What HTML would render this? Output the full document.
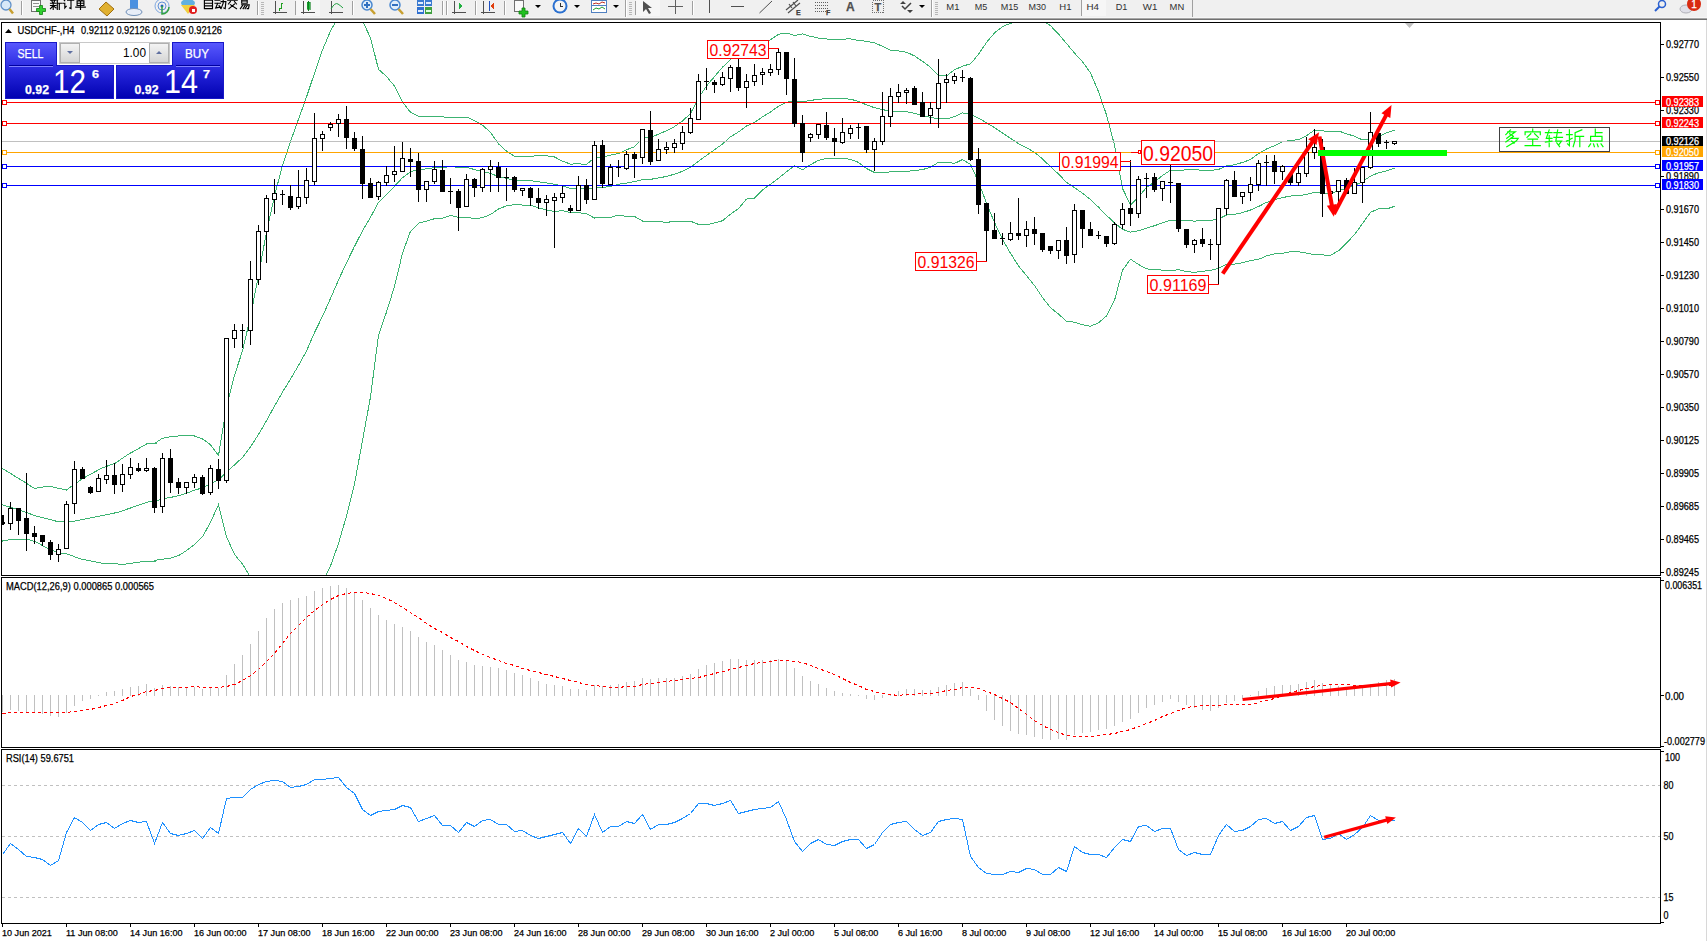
<!DOCTYPE html>
<html><head><meta charset="utf-8"><style>
html,body{margin:0;padding:0;background:#fff;overflow:hidden}
svg{display:block}
text{font-family:"Liberation Sans", sans-serif}
</style></head><body>
<svg width="1707" height="941" viewBox="0 0 1707 941" shape-rendering="crispEdges">
<rect x="0" y="0" width="1707" height="941" fill="#fff"/>
<rect x="0" y="0" width="1707" height="17" fill="#f0f0f0"/>
<rect x="0" y="17" width="1707" height="1" fill="#f6f6f6"/>
<rect x="0" y="18" width="1707" height="1" fill="#a8a8a8"/>
<rect x="0" y="19" width="1707" height="1" fill="#707070"/>
<rect x="1706" y="20" width="1" height="921" fill="#d8d8d8"/>
<defs><clipPath id="cm"><rect x="2" y="23" width="1658" height="552"/></clipPath><clipPath id="cmacd"><rect x="2" y="578" width="1658" height="169"/></clipPath><clipPath id="crsi"><rect x="2" y="750" width="1658" height="173"/></clipPath></defs>
<g clip-path="url(#cm)">
<polyline fill="none" stroke="#3cb371" stroke-width="1"  points="0,467 26,483 34.5,488.5 48,486 66.4,490 82.9,478.4 102,468 114.9,463.4 127.8,454.6 146.8,443.9 156.5,443.1 154.5,443.57 162.5,438.24 170.5,436.72 178.5,435.91 186.5,435.73 194.5,435.99 202.5,438.9 210.5,444.74 218.5,455.64 226.5,406.87 234.5,375.26 242.5,350.87 250.5,316.53 258.5,274.98 266.5,232.22 274.5,195.88 282.5,165.33 290.5,141.53 298.5,119.23 306.5,97.04 314.5,73.16 322.5,50 330.5,31 338.5,16.52 346.5,9.6 354.5,8.8 362.5,21.05 370.5,37.77 378.5,69.31 386.5,76.41 394.5,86.14 402.5,102.1 410.5,112.29 418.5,116.1 426.5,116.57 434.5,116.57 442.5,116.7 450.5,117.97 458.5,117.03 466.5,117.03 474.5,120.58 482.5,125.09 490.5,132.47 498.5,143.83 506.5,151.08 514.5,156.34 522.5,156.37 530.5,156.34 538.5,155.54 546.5,155.84 554.5,156.97 562.5,161.2 570.5,164.07 578.5,163.83 586.5,164.44 594.5,157.84 602.5,157.44 610.5,155.06 618.5,153.61 626.5,149.73 634.5,146.73 642.5,138.19 650.5,137.56 658.5,134.16 666.5,130.68 674.5,126.61 682.5,120.93 690.5,113.52 698.5,98.12 706.5,85.93 714.5,76.62 722.5,67.2 730.5,59.44 738.5,55.14 746.5,52.87 754.5,46.79 762.5,43.67 770.5,39.82 778.5,34.27 786.5,33.08 794.5,35.45 802.5,33.85 810.5,36.35 818.5,38.06 826.5,38.99 834.5,39.15 842.5,39.15 850.5,38.85 858.5,40.55 866.5,41.2 874.5,42.86 882.5,46.27 890.5,50.43 898.5,50.94 906.5,52.19 914.5,55.87 922.5,61.27 930.5,67.36 938.5,75.69 946.5,75.95 954.5,69.77 962.5,66.17 970.5,63.9 978.5,54.32 986.5,42.48 994.5,32.93 1002.5,26.59 1010.5,23.31 1018.5,21.3 1026.5,19.69 1034.5,19.01 1042.5,20.3 1050.5,25.7 1058.5,34 1066.5,43.52 1074.5,53.06 1082.5,61.75 1090.5,72.93 1098.5,91.56 1106.5,114.84 1114.5,145.18 1122.5,188.34 1130.5,204.93 1138.5,197.13 1146.5,187.37 1154.5,181.97 1162.5,175.52 1170.5,170.19 1178.5,170.18 1186.5,169.93 1194.5,169.84 1202.5,170.16 1210.5,170.5 1218.5,169.48 1226.5,166.01 1234.5,164.69 1242.5,162.43 1250.5,159.61 1258.5,153.56 1266.5,148.97 1274.5,145.73 1282.5,141.88 1290.5,140.43 1298.5,139.72 1306.5,135.74 1314.5,130.07 1322.5,130.87 1330.5,131.46 1338.5,131.01 1346.5,133.72 1354.5,136.29 1362.5,139.85 1370.5,139.74 1378.5,136.95 1386.5,132.88 1394.5,130.03"/>
<polyline fill="none" stroke="#3cb371" stroke-width="1"  points="0,504 26.3,512.3 34.3,515.5 59,521.9 70.2,521.9 82.9,519.5 118,512.3 143.5,503.5 156.5,499.5 154.5,501.99 162.5,498.7 170.5,497.42 178.5,495.77 186.5,493.19 194.5,490.21 202.5,487.82 210.5,483.51 218.5,480.09 226.5,471.81 234.5,464.85 242.5,457.49 250.5,446.84 258.5,434.5 266.5,420.65 274.5,406.07 282.5,392.08 290.5,379.08 298.5,365.42 306.5,351.02 314.5,332.55 322.5,316.35 330.5,298.44 338.5,280.01 346.5,262.78 354.5,246.37 362.5,230.85 370.5,217.3 378.5,202.38 386.5,194.23 394.5,186.29 402.5,177.67 410.5,171.76 418.5,169.68 426.5,168.83 434.5,167.63 442.5,167.5 450.5,166.7 458.5,167.2 466.5,167.16 474.5,169.62 482.5,171.38 490.5,173.5 498.5,176.44 506.5,178.42 514.5,180.46 522.5,180.71 530.5,180.72 538.5,181.74 546.5,182.93 554.5,184.22 562.5,185.95 570.5,188.41 578.5,188.19 586.5,189.11 594.5,187.93 602.5,187.53 610.5,186.32 618.5,184.31 626.5,183.06 634.5,181.62 642.5,179.62 650.5,179.36 658.5,177.95 666.5,176.45 674.5,174.13 682.5,171.31 690.5,167.35 698.5,161.28 706.5,155.41 714.5,149.77 722.5,143.97 730.5,136.79 738.5,131.91 746.5,125.96 754.5,122.47 762.5,116.89 770.5,111.98 778.5,106.22 786.5,102.42 794.5,100.69 802.5,101.84 810.5,100.48 818.5,99.23 826.5,98.74 834.5,98.65 842.5,98.65 850.5,99.13 858.5,101.46 866.5,104.85 874.5,107.69 882.5,109.64 890.5,111.09 898.5,111.31 906.5,111.76 914.5,113.22 922.5,115.42 930.5,117.38 938.5,118.94 946.5,119 954.5,116.6 962.5,112.87 970.5,114.15 978.5,118.16 986.5,122.82 994.5,127.67 1002.5,133 1010.5,138.26 1018.5,143.66 1026.5,147.65 1034.5,152.27 1042.5,158.94 1050.5,166.67 1058.5,174.06 1066.5,182.34 1074.5,187.63 1082.5,193.25 1090.5,199.58 1098.5,207.17 1106.5,215.37 1114.5,222.78 1122.5,229.36 1130.5,232.06 1138.5,230.8 1146.5,228.15 1154.5,225.71 1162.5,222.84 1170.5,220.32 1178.5,219.97 1186.5,220.73 1194.5,221.07 1202.5,220.76 1210.5,220.45 1218.5,218.86 1226.5,215.08 1234.5,214.39 1242.5,212.58 1250.5,210.06 1258.5,206.49 1266.5,202.41 1274.5,199.76 1282.5,197.61 1290.5,196.03 1298.5,195.73 1306.5,194.44 1314.5,192.31 1322.5,192.91 1330.5,193.34 1338.5,190.93 1346.5,188.37 1354.5,185.47 1362.5,181.68 1370.5,176.08 1378.5,172.83 1386.5,170.94 1394.5,168.2"/>
<polyline fill="none" stroke="#3cb371" stroke-width="1"  points="0,541.5 9.6,539.6 28.7,539.6 36.7,542.3 47.9,548.7 60.6,553.5 67,554 81.3,559.1 103.7,563.6 124.4,564.2 143.5,561.5 156.5,561 154.5,560.41 162.5,559.16 170.5,558.12 178.5,555.62 186.5,550.65 194.5,544.42 202.5,536.75 210.5,522.28 218.5,504.54 226.5,536.74 234.5,554.45 242.5,564.12 250.5,577.16 258.5,594.02 266.5,609.09 274.5,616.26 282.5,618.83 290.5,616.64 298.5,611.61 306.5,605.01 314.5,591.95 322.5,582.71 330.5,565.88 338.5,543.51 346.5,515.96 354.5,483.95 362.5,440.65 370.5,396.83 378.5,335.45 386.5,312.05 394.5,286.44 402.5,253.24 410.5,231.23 418.5,223.25 426.5,221.1 434.5,218.69 442.5,218.29 450.5,215.43 458.5,217.38 466.5,217.29 474.5,218.67 482.5,217.67 490.5,214.54 498.5,209.04 506.5,205.76 514.5,204.58 522.5,205.05 530.5,205.11 538.5,207.95 546.5,210.02 554.5,211.47 562.5,210.71 570.5,212.75 578.5,212.56 586.5,213.79 594.5,218.02 602.5,217.61 610.5,217.58 618.5,215.02 626.5,216.39 634.5,216.5 642.5,221.05 650.5,221.17 658.5,221.74 666.5,222.22 674.5,221.65 682.5,221.7 690.5,221.19 698.5,224.43 706.5,224.88 714.5,222.92 722.5,220.75 730.5,214.14 738.5,208.67 746.5,199.06 754.5,198.15 762.5,190.11 770.5,184.15 778.5,178.17 786.5,171.77 794.5,165.92 802.5,169.83 810.5,164.61 818.5,160.39 826.5,158.48 834.5,158.15 842.5,158.15 850.5,159.41 858.5,162.37 866.5,168.51 874.5,172.51 882.5,173.01 890.5,171.76 898.5,171.68 906.5,171.34 914.5,170.57 922.5,169.57 930.5,167.39 938.5,162.19 946.5,162.04 954.5,163.44 962.5,159.57 970.5,164.39 978.5,181.99 986.5,203.16 994.5,222.42 1002.5,239.42 1010.5,253.22 1018.5,266.02 1026.5,275.61 1034.5,285.53 1042.5,297.59 1050.5,307.63 1058.5,314.13 1066.5,321.16 1074.5,322.2 1082.5,324.76 1090.5,326.24 1098.5,322.77 1106.5,315.89 1114.5,300.39 1122.5,270.38 1130.5,259.19 1138.5,264.47 1146.5,268.94 1154.5,269.44 1162.5,270.16 1170.5,270.45 1178.5,269.76 1186.5,271.53 1194.5,272.3 1202.5,271.36 1210.5,270.41 1218.5,268.24 1226.5,264.16 1234.5,264.1 1242.5,262.73 1250.5,260.51 1258.5,259.42 1266.5,255.85 1274.5,253.8 1282.5,253.35 1290.5,251.63 1298.5,251.75 1306.5,253.15 1314.5,254.55 1322.5,254.95 1330.5,255.21 1338.5,250.84 1346.5,243.02 1354.5,234.66 1362.5,223.5 1370.5,212.42 1378.5,208.72 1386.5,209 1394.5,206.37"/>
<rect x="2" y="102" width="1658" height="1" fill="#ff0000"/>
<rect x="2.5" y="100.5" width="4" height="4" fill="#fff" stroke="#ff0000" stroke-width="1"/>
<rect x="1655.5" y="100.5" width="4" height="4" fill="#fff" stroke="#ff0000" stroke-width="1"/>
<rect x="2" y="123" width="1658" height="1" fill="#ff0000"/>
<rect x="2.5" y="121.5" width="4" height="4" fill="#fff" stroke="#ff0000" stroke-width="1"/>
<rect x="1655.5" y="121.5" width="4" height="4" fill="#fff" stroke="#ff0000" stroke-width="1"/>
<rect x="2" y="141" width="1658" height="1" fill="#c0c0c0"/>
<rect x="2" y="152" width="1658" height="1" fill="#ffa500"/>
<rect x="2.5" y="150.5" width="4" height="4" fill="#fff" stroke="#ffa500" stroke-width="1"/>
<rect x="1655.5" y="150.5" width="4" height="4" fill="#fff" stroke="#ffa500" stroke-width="1"/>
<rect x="2" y="166" width="1658" height="1" fill="#0000ff"/>
<rect x="2.5" y="164.5" width="4" height="4" fill="#fff" stroke="#0000ff" stroke-width="1"/>
<rect x="1655.5" y="164.5" width="4" height="4" fill="#fff" stroke="#0000ff" stroke-width="1"/>
<rect x="2" y="185" width="1658" height="1" fill="#0000ff"/>
<rect x="2.5" y="183.5" width="4" height="4" fill="#fff" stroke="#0000ff" stroke-width="1"/>
<rect x="1655.5" y="183.5" width="4" height="4" fill="#fff" stroke="#0000ff" stroke-width="1"/>
<rect x="2" y="515" width="2" height="10" fill="#000"/><rect x="2" y="522" width="3" height="2" fill="#000"/>
<rect x="10" y="502" width="1" height="28" fill="#000"/>
<rect x="8.5" y="508.5" width="4" height="15" fill="#fff" stroke="#000" stroke-width="1"/>
<rect x="18" y="508" width="1" height="27" fill="#000"/>
<rect x="16" y="508" width="5" height="13" fill="#000"/>
<rect x="26" y="473" width="1" height="78" fill="#000"/>
<rect x="24" y="518" width="5" height="16" fill="#000"/>
<rect x="34" y="526" width="1" height="18" fill="#000"/>
<rect x="32" y="533" width="5" height="4" fill="#000"/>
<rect x="42" y="535" width="1" height="11" fill="#000"/>
<rect x="40" y="535" width="5" height="7" fill="#000"/>
<rect x="50" y="540" width="1" height="20" fill="#000"/>
<rect x="48" y="542" width="5" height="13" fill="#000"/>
<rect x="58" y="544" width="1" height="18" fill="#000"/>
<rect x="56.5" y="549.5" width="4" height="5" fill="#fff" stroke="#000" stroke-width="1"/>
<rect x="66" y="501" width="1" height="48" fill="#000"/>
<rect x="64.5" y="504.5" width="4" height="44" fill="#fff" stroke="#000" stroke-width="1"/>
<rect x="74" y="461" width="1" height="53" fill="#000"/>
<rect x="72.5" y="469.5" width="4" height="34" fill="#fff" stroke="#000" stroke-width="1"/>
<rect x="82" y="467" width="1" height="12" fill="#000"/>
<rect x="80" y="469" width="5" height="10" fill="#000"/>
<rect x="90" y="486" width="1" height="8" fill="#000"/>
<rect x="88" y="487" width="5" height="6" fill="#000"/>
<rect x="98" y="474" width="1" height="18" fill="#000"/>
<rect x="96.5" y="478.5" width="4" height="13" fill="#fff" stroke="#000" stroke-width="1"/>
<rect x="106" y="460" width="1" height="24" fill="#000"/>
<rect x="104.5" y="475.5" width="4" height="4" fill="#fff" stroke="#000" stroke-width="1"/>
<rect x="114" y="463" width="1" height="31" fill="#000"/>
<rect x="112" y="475" width="5" height="10" fill="#000"/>
<rect x="122" y="464" width="1" height="28" fill="#000"/>
<rect x="120.5" y="474.5" width="4" height="10" fill="#fff" stroke="#000" stroke-width="1"/>
<rect x="130" y="458" width="1" height="21" fill="#000"/>
<rect x="128.5" y="467.5" width="4" height="7" fill="#fff" stroke="#000" stroke-width="1"/>
<rect x="138" y="463" width="1" height="9" fill="#000"/>
<rect x="136" y="468" width="5" height="3" fill="#000"/>
<rect x="146" y="458" width="1" height="14" fill="#000"/>
<rect x="144.5" y="468.5" width="4" height="2" fill="#fff" stroke="#000" stroke-width="1"/>
<rect x="154" y="467" width="1" height="46" fill="#000"/>
<rect x="152" y="468" width="5" height="40" fill="#000"/>
<rect x="162" y="453" width="1" height="60" fill="#000"/>
<rect x="160.5" y="458.5" width="4" height="48" fill="#fff" stroke="#000" stroke-width="1"/>
<rect x="170" y="449" width="1" height="44" fill="#000"/>
<rect x="168" y="458" width="5" height="25" fill="#000"/>
<rect x="178" y="478" width="1" height="16" fill="#000"/>
<rect x="176" y="482" width="5" height="6" fill="#000"/>
<rect x="186" y="482" width="1" height="12" fill="#000"/>
<rect x="184.5" y="482.5" width="4" height="5" fill="#fff" stroke="#000" stroke-width="1"/>
<rect x="194" y="474" width="1" height="14" fill="#000"/>
<rect x="192.5" y="477.5" width="4" height="5" fill="#fff" stroke="#000" stroke-width="1"/>
<rect x="202" y="475" width="1" height="20" fill="#000"/>
<rect x="200" y="477" width="5" height="17" fill="#000"/>
<rect x="210" y="465" width="1" height="30" fill="#000"/>
<rect x="208.5" y="468.5" width="4" height="24" fill="#fff" stroke="#000" stroke-width="1"/>
<rect x="218" y="459" width="1" height="30" fill="#000"/>
<rect x="216" y="469" width="5" height="12" fill="#000"/>
<rect x="226" y="338" width="1" height="145" fill="#000"/>
<rect x="224.5" y="338.5" width="4" height="142" fill="#fff" stroke="#000" stroke-width="1"/>
<rect x="234" y="324" width="1" height="24" fill="#000"/>
<rect x="232.5" y="330.5" width="4" height="8" fill="#fff" stroke="#000" stroke-width="1"/>
<rect x="242" y="324" width="1" height="24" fill="#000"/>
<rect x="240" y="330" width="5" height="1" fill="#000"/>
<rect x="250" y="261" width="1" height="84" fill="#000"/>
<rect x="248.5" y="279.5" width="4" height="51" fill="#fff" stroke="#000" stroke-width="1"/>
<rect x="258" y="225" width="1" height="60" fill="#000"/>
<rect x="256.5" y="231.5" width="4" height="48" fill="#fff" stroke="#000" stroke-width="1"/>
<rect x="266" y="195" width="1" height="68" fill="#000"/>
<rect x="264.5" y="198.5" width="4" height="33" fill="#fff" stroke="#000" stroke-width="1"/>
<rect x="274" y="179" width="1" height="35" fill="#000"/>
<rect x="272.5" y="193.5" width="4" height="6" fill="#fff" stroke="#000" stroke-width="1"/>
<rect x="282" y="190" width="1" height="15" fill="#000"/>
<rect x="280" y="194" width="5" height="1" fill="#000"/>
<rect x="290" y="185" width="1" height="25" fill="#000"/>
<rect x="288" y="196" width="5" height="12" fill="#000"/>
<rect x="298" y="170" width="1" height="39" fill="#000"/>
<rect x="296.5" y="197.5" width="4" height="9" fill="#fff" stroke="#000" stroke-width="1"/>
<rect x="306" y="168" width="1" height="36" fill="#000"/>
<rect x="304.5" y="180.5" width="4" height="17" fill="#fff" stroke="#000" stroke-width="1"/>
<rect x="314" y="113" width="1" height="72" fill="#000"/>
<rect x="312.5" y="138.5" width="4" height="43" fill="#fff" stroke="#000" stroke-width="1"/>
<rect x="322" y="131" width="1" height="20" fill="#000"/>
<rect x="320.5" y="134.5" width="4" height="4" fill="#fff" stroke="#000" stroke-width="1"/>
<rect x="330" y="122" width="1" height="9" fill="#000"/>
<rect x="328.5" y="124.5" width="4" height="3" fill="#fff" stroke="#000" stroke-width="1"/>
<rect x="338" y="114" width="1" height="23" fill="#000"/>
<rect x="336.5" y="119.5" width="4" height="4" fill="#fff" stroke="#000" stroke-width="1"/>
<rect x="346" y="106" width="1" height="43" fill="#000"/>
<rect x="344" y="119" width="5" height="19" fill="#000"/>
<rect x="354" y="132" width="1" height="19" fill="#000"/>
<rect x="352" y="138" width="5" height="11" fill="#000"/>
<rect x="362" y="136" width="1" height="63" fill="#000"/>
<rect x="360" y="149" width="5" height="35" fill="#000"/>
<rect x="370" y="178" width="1" height="20" fill="#000"/>
<rect x="368" y="183" width="5" height="15" fill="#000"/>
<rect x="378" y="181" width="1" height="19" fill="#000"/>
<rect x="376.5" y="182.5" width="4" height="14" fill="#fff" stroke="#000" stroke-width="1"/>
<rect x="386" y="166" width="1" height="20" fill="#000"/>
<rect x="384.5" y="175.5" width="4" height="7" fill="#fff" stroke="#000" stroke-width="1"/>
<rect x="394" y="146" width="1" height="36" fill="#000"/>
<rect x="392.5" y="171.5" width="4" height="3" fill="#fff" stroke="#000" stroke-width="1"/>
<rect x="402" y="142" width="1" height="30" fill="#000"/>
<rect x="400.5" y="158.5" width="4" height="13" fill="#fff" stroke="#000" stroke-width="1"/>
<rect x="410" y="148" width="1" height="29" fill="#000"/>
<rect x="408" y="159" width="5" height="3" fill="#000"/>
<rect x="418" y="153" width="1" height="49" fill="#000"/>
<rect x="416" y="161" width="5" height="29" fill="#000"/>
<rect x="426" y="181" width="1" height="21" fill="#000"/>
<rect x="424.5" y="181.5" width="4" height="8" fill="#fff" stroke="#000" stroke-width="1"/>
<rect x="434" y="161" width="1" height="23" fill="#000"/>
<rect x="432.5" y="169.5" width="4" height="12" fill="#fff" stroke="#000" stroke-width="1"/>
<rect x="442" y="160" width="1" height="32" fill="#000"/>
<rect x="440" y="170" width="5" height="22" fill="#000"/>
<rect x="450" y="178" width="1" height="26" fill="#000"/>
<rect x="448" y="191" width="5" height="1" fill="#000"/>
<rect x="458" y="189" width="1" height="42" fill="#000"/>
<rect x="456" y="191" width="5" height="17" fill="#000"/>
<rect x="466" y="174" width="1" height="33" fill="#000"/>
<rect x="464.5" y="179.5" width="4" height="27" fill="#fff" stroke="#000" stroke-width="1"/>
<rect x="474" y="178" width="1" height="19" fill="#000"/>
<rect x="472" y="179" width="5" height="9" fill="#000"/>
<rect x="482" y="168" width="1" height="24" fill="#000"/>
<rect x="480.5" y="169.5" width="4" height="18" fill="#fff" stroke="#000" stroke-width="1"/>
<rect x="490" y="160" width="1" height="32" fill="#000"/>
<rect x="488.5" y="166.5" width="4" height="3" fill="#fff" stroke="#000" stroke-width="1"/>
<rect x="498" y="162" width="1" height="30" fill="#000"/>
<rect x="496" y="167" width="5" height="11" fill="#000"/>
<rect x="506" y="168" width="1" height="33" fill="#000"/>
<rect x="504" y="177" width="5" height="1" fill="#000"/>
<rect x="514" y="176" width="1" height="16" fill="#000"/>
<rect x="512" y="177" width="5" height="13" fill="#000"/>
<rect x="522" y="188" width="1" height="8" fill="#000"/>
<rect x="520.5" y="188.5" width="4" height="2" fill="#fff" stroke="#000" stroke-width="1"/>
<rect x="530" y="187" width="1" height="19" fill="#000"/>
<rect x="528" y="188" width="5" height="10" fill="#000"/>
<rect x="538" y="188" width="1" height="21" fill="#000"/>
<rect x="536" y="198" width="5" height="5" fill="#000"/>
<rect x="546" y="195" width="1" height="21" fill="#000"/>
<rect x="544.5" y="199.5" width="4" height="3" fill="#fff" stroke="#000" stroke-width="1"/>
<rect x="554" y="193" width="1" height="55" fill="#000"/>
<rect x="552.5" y="197.5" width="4" height="3" fill="#fff" stroke="#000" stroke-width="1"/>
<rect x="562" y="186" width="1" height="17" fill="#000"/>
<rect x="560.5" y="193.5" width="4" height="4" fill="#fff" stroke="#000" stroke-width="1"/>
<rect x="570" y="205" width="1" height="8" fill="#000"/>
<rect x="568" y="208" width="5" height="3" fill="#000"/>
<rect x="578" y="176" width="1" height="35" fill="#000"/>
<rect x="576.5" y="185.5" width="4" height="25" fill="#fff" stroke="#000" stroke-width="1"/>
<rect x="586" y="179" width="1" height="25" fill="#000"/>
<rect x="584" y="185" width="5" height="15" fill="#000"/>
<rect x="594" y="141" width="1" height="59" fill="#000"/>
<rect x="592.5" y="145.5" width="4" height="54" fill="#fff" stroke="#000" stroke-width="1"/>
<rect x="602" y="140" width="1" height="48" fill="#000"/>
<rect x="600" y="145" width="5" height="39" fill="#000"/>
<rect x="610" y="164" width="1" height="21" fill="#000"/>
<rect x="608.5" y="167.5" width="4" height="17" fill="#fff" stroke="#000" stroke-width="1"/>
<rect x="618" y="160" width="1" height="17" fill="#000"/>
<rect x="616" y="167" width="5" height="1" fill="#000"/>
<rect x="626" y="151" width="1" height="19" fill="#000"/>
<rect x="624.5" y="154.5" width="4" height="14" fill="#fff" stroke="#000" stroke-width="1"/>
<rect x="634" y="152" width="1" height="26" fill="#000"/>
<rect x="632" y="154" width="5" height="5" fill="#000"/>
<rect x="642" y="129" width="1" height="35" fill="#000"/>
<rect x="640.5" y="129.5" width="4" height="28" fill="#fff" stroke="#000" stroke-width="1"/>
<rect x="650" y="111" width="1" height="54" fill="#000"/>
<rect x="648" y="130" width="5" height="32" fill="#000"/>
<rect x="658" y="139" width="1" height="22" fill="#000"/>
<rect x="656.5" y="149.5" width="4" height="11" fill="#fff" stroke="#000" stroke-width="1"/>
<rect x="666" y="142" width="1" height="12" fill="#000"/>
<rect x="664.5" y="147.5" width="4" height="2" fill="#fff" stroke="#000" stroke-width="1"/>
<rect x="674" y="139" width="1" height="14" fill="#000"/>
<rect x="672.5" y="143.5" width="4" height="4" fill="#fff" stroke="#000" stroke-width="1"/>
<rect x="682" y="126" width="1" height="24" fill="#000"/>
<rect x="680.5" y="132.5" width="4" height="11" fill="#fff" stroke="#000" stroke-width="1"/>
<rect x="690" y="108" width="1" height="26" fill="#000"/>
<rect x="688.5" y="118.5" width="4" height="14" fill="#fff" stroke="#000" stroke-width="1"/>
<rect x="698" y="74" width="1" height="46" fill="#000"/>
<rect x="696.5" y="81.5" width="4" height="38" fill="#fff" stroke="#000" stroke-width="1"/>
<rect x="706" y="68" width="1" height="22" fill="#000"/>
<rect x="704" y="81" width="5" height="1" fill="#000"/>
<rect x="714" y="80" width="1" height="13" fill="#000"/>
<rect x="712" y="82" width="5" height="3" fill="#000"/>
<rect x="722" y="72" width="1" height="14" fill="#000"/>
<rect x="720.5" y="77.5" width="4" height="7" fill="#fff" stroke="#000" stroke-width="1"/>
<rect x="730" y="65" width="1" height="27" fill="#000"/>
<rect x="728.5" y="67.5" width="4" height="11" fill="#fff" stroke="#000" stroke-width="1"/>
<rect x="738" y="54" width="1" height="37" fill="#000"/>
<rect x="736" y="67" width="5" height="21" fill="#000"/>
<rect x="746" y="74" width="1" height="34" fill="#000"/>
<rect x="744.5" y="81.5" width="4" height="6" fill="#fff" stroke="#000" stroke-width="1"/>
<rect x="754" y="64" width="1" height="22" fill="#000"/>
<rect x="752.5" y="75.5" width="4" height="6" fill="#fff" stroke="#000" stroke-width="1"/>
<rect x="762" y="68" width="1" height="17" fill="#000"/>
<rect x="760.5" y="72.5" width="4" height="2" fill="#fff" stroke="#000" stroke-width="1"/>
<rect x="770" y="64" width="1" height="12" fill="#000"/>
<rect x="768.5" y="69.5" width="4" height="3" fill="#fff" stroke="#000" stroke-width="1"/>
<rect x="778" y="49" width="1" height="26" fill="#000"/>
<rect x="776.5" y="52.5" width="4" height="17" fill="#fff" stroke="#000" stroke-width="1"/>
<rect x="786" y="52" width="1" height="43" fill="#000"/>
<rect x="784" y="52" width="5" height="27" fill="#000"/>
<rect x="794" y="58" width="1" height="69" fill="#000"/>
<rect x="792" y="79" width="5" height="45" fill="#000"/>
<rect x="802" y="115" width="1" height="47" fill="#000"/>
<rect x="800" y="123" width="5" height="30" fill="#000"/>
<rect x="810" y="133" width="1" height="9" fill="#000"/>
<rect x="808.5" y="134.5" width="4" height="3" fill="#fff" stroke="#000" stroke-width="1"/>
<rect x="818" y="124" width="1" height="15" fill="#000"/>
<rect x="816.5" y="124.5" width="4" height="10" fill="#fff" stroke="#000" stroke-width="1"/>
<rect x="826" y="112" width="1" height="28" fill="#000"/>
<rect x="824" y="125" width="5" height="13" fill="#000"/>
<rect x="834" y="128" width="1" height="28" fill="#000"/>
<rect x="832" y="138" width="5" height="4" fill="#000"/>
<rect x="842" y="118" width="1" height="26" fill="#000"/>
<rect x="840.5" y="132.5" width="4" height="10" fill="#fff" stroke="#000" stroke-width="1"/>
<rect x="850" y="125" width="1" height="14" fill="#000"/>
<rect x="848.5" y="128.5" width="4" height="5" fill="#fff" stroke="#000" stroke-width="1"/>
<rect x="858" y="123" width="1" height="16" fill="#000"/>
<rect x="856" y="127" width="5" height="1" fill="#000"/>
<rect x="866" y="126" width="1" height="27" fill="#000"/>
<rect x="864" y="126" width="5" height="24" fill="#000"/>
<rect x="874" y="138" width="1" height="33" fill="#000"/>
<rect x="872.5" y="141.5" width="4" height="8" fill="#fff" stroke="#000" stroke-width="1"/>
<rect x="882" y="92" width="1" height="53" fill="#000"/>
<rect x="880.5" y="116.5" width="4" height="25" fill="#fff" stroke="#000" stroke-width="1"/>
<rect x="890" y="88" width="1" height="39" fill="#000"/>
<rect x="888.5" y="96.5" width="4" height="20" fill="#fff" stroke="#000" stroke-width="1"/>
<rect x="898" y="84" width="1" height="19" fill="#000"/>
<rect x="896.5" y="92.5" width="4" height="4" fill="#fff" stroke="#000" stroke-width="1"/>
<rect x="906" y="88" width="1" height="16" fill="#000"/>
<rect x="904.5" y="90.5" width="4" height="2" fill="#fff" stroke="#000" stroke-width="1"/>
<rect x="914" y="86" width="1" height="19" fill="#000"/>
<rect x="912" y="88" width="5" height="17" fill="#000"/>
<rect x="922" y="92" width="1" height="25" fill="#000"/>
<rect x="920" y="102" width="5" height="15" fill="#000"/>
<rect x="930" y="102" width="1" height="22" fill="#000"/>
<rect x="928.5" y="108.5" width="4" height="7" fill="#fff" stroke="#000" stroke-width="1"/>
<rect x="938" y="59" width="1" height="69" fill="#000"/>
<rect x="936.5" y="83.5" width="4" height="25" fill="#fff" stroke="#000" stroke-width="1"/>
<rect x="946" y="74" width="1" height="29" fill="#000"/>
<rect x="944.5" y="79.5" width="4" height="3" fill="#fff" stroke="#000" stroke-width="1"/>
<rect x="954" y="73" width="1" height="11" fill="#000"/>
<rect x="952.5" y="76.5" width="4" height="4" fill="#fff" stroke="#000" stroke-width="1"/>
<rect x="962" y="70" width="1" height="12" fill="#000"/>
<rect x="960" y="77" width="5" height="1" fill="#000"/>
<rect x="970" y="77" width="1" height="84" fill="#000"/>
<rect x="968" y="78" width="5" height="82" fill="#000"/>
<rect x="978" y="148" width="1" height="66" fill="#000"/>
<rect x="976" y="159" width="5" height="46" fill="#000"/>
<rect x="986" y="203" width="1" height="59" fill="#000"/>
<rect x="984" y="203" width="5" height="28" fill="#000"/>
<rect x="994" y="213" width="1" height="26" fill="#000"/>
<rect x="992" y="230" width="5" height="9" fill="#000"/>
<rect x="1002" y="233" width="1" height="12" fill="#000"/>
<rect x="1000" y="238" width="5" height="1" fill="#000"/>
<rect x="1010" y="222" width="1" height="19" fill="#000"/>
<rect x="1008.5" y="233.5" width="4" height="6" fill="#fff" stroke="#000" stroke-width="1"/>
<rect x="1018" y="198" width="1" height="42" fill="#000"/>
<rect x="1016" y="233" width="5" height="3" fill="#000"/>
<rect x="1026" y="221" width="1" height="26" fill="#000"/>
<rect x="1024.5" y="229.5" width="4" height="6" fill="#fff" stroke="#000" stroke-width="1"/>
<rect x="1034" y="217" width="1" height="28" fill="#000"/>
<rect x="1032" y="229" width="5" height="5" fill="#000"/>
<rect x="1042" y="233" width="1" height="19" fill="#000"/>
<rect x="1040" y="233" width="5" height="17" fill="#000"/>
<rect x="1050" y="246" width="1" height="8" fill="#000"/>
<rect x="1048" y="246" width="5" height="5" fill="#000"/>
<rect x="1058" y="240" width="1" height="19" fill="#000"/>
<rect x="1056.5" y="240.5" width="4" height="10" fill="#fff" stroke="#000" stroke-width="1"/>
<rect x="1066" y="227" width="1" height="37" fill="#000"/>
<rect x="1064" y="240" width="5" height="16" fill="#000"/>
<rect x="1074" y="204" width="1" height="59" fill="#000"/>
<rect x="1072.5" y="210.5" width="4" height="44" fill="#fff" stroke="#000" stroke-width="1"/>
<rect x="1082" y="210" width="1" height="38" fill="#000"/>
<rect x="1080" y="210" width="5" height="19" fill="#000"/>
<rect x="1090" y="222" width="1" height="14" fill="#000"/>
<rect x="1088" y="229" width="5" height="7" fill="#000"/>
<rect x="1098" y="231" width="1" height="8" fill="#000"/>
<rect x="1096" y="235" width="5" height="1" fill="#000"/>
<rect x="1106" y="236" width="1" height="11" fill="#000"/>
<rect x="1104" y="236" width="5" height="8" fill="#000"/>
<rect x="1114" y="222" width="1" height="23" fill="#000"/>
<rect x="1112.5" y="224.5" width="4" height="19" fill="#fff" stroke="#000" stroke-width="1"/>
<rect x="1122" y="203" width="1" height="26" fill="#000"/>
<rect x="1120.5" y="209.5" width="4" height="15" fill="#fff" stroke="#000" stroke-width="1"/>
<rect x="1130" y="160" width="1" height="66" fill="#000"/>
<rect x="1128" y="208" width="5" height="6" fill="#000"/>
<rect x="1138" y="176" width="1" height="42" fill="#000"/>
<rect x="1136.5" y="179.5" width="4" height="34" fill="#fff" stroke="#000" stroke-width="1"/>
<rect x="1146" y="173" width="1" height="25" fill="#000"/>
<rect x="1144" y="178" width="5" height="1" fill="#000"/>
<rect x="1154" y="173" width="1" height="19" fill="#000"/>
<rect x="1152" y="177" width="5" height="13" fill="#000"/>
<rect x="1162" y="181" width="1" height="20" fill="#000"/>
<rect x="1160.5" y="181.5" width="4" height="7" fill="#fff" stroke="#000" stroke-width="1"/>
<rect x="1170" y="163" width="1" height="40" fill="#000"/>
<rect x="1168" y="182" width="5" height="1" fill="#000"/>
<rect x="1178" y="183" width="1" height="49" fill="#000"/>
<rect x="1176" y="183" width="5" height="46" fill="#000"/>
<rect x="1186" y="229" width="1" height="19" fill="#000"/>
<rect x="1184" y="229" width="5" height="16" fill="#000"/>
<rect x="1194" y="239" width="1" height="14" fill="#000"/>
<rect x="1192.5" y="240.5" width="4" height="4" fill="#fff" stroke="#000" stroke-width="1"/>
<rect x="1202" y="228" width="1" height="19" fill="#000"/>
<rect x="1200" y="239" width="5" height="5" fill="#000"/>
<rect x="1210" y="239" width="1" height="21" fill="#000"/>
<rect x="1208" y="244" width="5" height="1" fill="#000"/>
<rect x="1218" y="208" width="1" height="77" fill="#000"/>
<rect x="1216.5" y="208.5" width="4" height="36" fill="#fff" stroke="#000" stroke-width="1"/>
<rect x="1226" y="179" width="1" height="36" fill="#000"/>
<rect x="1224.5" y="180.5" width="4" height="28" fill="#fff" stroke="#000" stroke-width="1"/>
<rect x="1234" y="171" width="1" height="26" fill="#000"/>
<rect x="1232" y="180" width="5" height="17" fill="#000"/>
<rect x="1242" y="192" width="1" height="12" fill="#000"/>
<rect x="1240.5" y="192.5" width="4" height="4" fill="#fff" stroke="#000" stroke-width="1"/>
<rect x="1250" y="177" width="1" height="24" fill="#000"/>
<rect x="1248.5" y="184.5" width="4" height="8" fill="#fff" stroke="#000" stroke-width="1"/>
<rect x="1258" y="160" width="1" height="31" fill="#000"/>
<rect x="1256.5" y="163.5" width="4" height="21" fill="#fff" stroke="#000" stroke-width="1"/>
<rect x="1266" y="155" width="1" height="31" fill="#000"/>
<rect x="1264" y="162" width="5" height="1" fill="#000"/>
<rect x="1274" y="155" width="1" height="29" fill="#000"/>
<rect x="1272" y="161" width="5" height="11" fill="#000"/>
<rect x="1282" y="165" width="1" height="15" fill="#000"/>
<rect x="1280.5" y="166.5" width="4" height="5" fill="#fff" stroke="#000" stroke-width="1"/>
<rect x="1290" y="174" width="1" height="11" fill="#000"/>
<rect x="1288" y="174" width="5" height="9" fill="#000"/>
<rect x="1298" y="166" width="1" height="20" fill="#000"/>
<rect x="1296.5" y="173.5" width="4" height="9" fill="#fff" stroke="#000" stroke-width="1"/>
<rect x="1306" y="137" width="1" height="40" fill="#000"/>
<rect x="1304.5" y="152.5" width="4" height="21" fill="#fff" stroke="#000" stroke-width="1"/>
<rect x="1314" y="129" width="1" height="30" fill="#000"/>
<rect x="1312.5" y="147.5" width="4" height="5" fill="#fff" stroke="#000" stroke-width="1"/>
<rect x="1322" y="139" width="1" height="78" fill="#000"/>
<rect x="1320" y="147" width="5" height="47" fill="#000"/>
<rect x="1330" y="189" width="1" height="6" fill="#000"/>
<rect x="1328.5" y="191.5" width="4" height="2" fill="#fff" stroke="#000" stroke-width="1"/>
<rect x="1338" y="180" width="1" height="25" fill="#000"/>
<rect x="1336.5" y="180.5" width="4" height="11" fill="#fff" stroke="#000" stroke-width="1"/>
<rect x="1346" y="178" width="1" height="16" fill="#000"/>
<rect x="1344" y="180" width="5" height="14" fill="#000"/>
<rect x="1354" y="168" width="1" height="26" fill="#000"/>
<rect x="1352.5" y="182.5" width="4" height="11" fill="#fff" stroke="#000" stroke-width="1"/>
<rect x="1362" y="167" width="1" height="36" fill="#000"/>
<rect x="1360.5" y="167.5" width="4" height="15" fill="#fff" stroke="#000" stroke-width="1"/>
<rect x="1370" y="112" width="1" height="57" fill="#000"/>
<rect x="1368.5" y="132.5" width="4" height="35" fill="#fff" stroke="#000" stroke-width="1"/>
<rect x="1378" y="133" width="1" height="14" fill="#000"/>
<rect x="1376" y="133" width="5" height="11" fill="#000"/>
<rect x="1386" y="140" width="1" height="9" fill="#000"/>
<rect x="1384" y="142" width="5" height="1" fill="#000"/>
<rect x="1394" y="141" width="1" height="4" fill="#000"/>
<rect x="1392.5" y="141.5" width="4" height="2" fill="#fff" stroke="#000" stroke-width="1"/>
</g>
<g clip-path="url(#cmacd)">
<rect x="2" y="695" width="1" height="17" fill="#c0c0c0"/>
<rect x="10" y="695" width="1" height="15" fill="#c0c0c0"/>
<rect x="18" y="695" width="1" height="16" fill="#c0c0c0"/>
<rect x="26" y="695" width="1" height="17" fill="#c0c0c0"/>
<rect x="34" y="695" width="1" height="18" fill="#c0c0c0"/>
<rect x="42" y="695" width="1" height="19" fill="#c0c0c0"/>
<rect x="50" y="695" width="1" height="21" fill="#c0c0c0"/>
<rect x="58" y="695" width="1" height="22" fill="#c0c0c0"/>
<rect x="66" y="695" width="1" height="18" fill="#c0c0c0"/>
<rect x="74" y="695" width="1" height="11" fill="#c0c0c0"/>
<rect x="82" y="695" width="1" height="6" fill="#c0c0c0"/>
<rect x="90" y="695" width="1" height="4" fill="#c0c0c0"/>
<rect x="98" y="695" width="1" height="1" fill="#c0c0c0"/>
<rect x="106" y="692" width="1" height="4" fill="#c0c0c0"/>
<rect x="114" y="691" width="1" height="5" fill="#c0c0c0"/>
<rect x="122" y="689" width="1" height="7" fill="#c0c0c0"/>
<rect x="130" y="687" width="1" height="9" fill="#c0c0c0"/>
<rect x="138" y="686" width="1" height="10" fill="#c0c0c0"/>
<rect x="146" y="684" width="1" height="12" fill="#c0c0c0"/>
<rect x="154" y="688" width="1" height="8" fill="#c0c0c0"/>
<rect x="162" y="685" width="1" height="11" fill="#c0c0c0"/>
<rect x="170" y="686" width="1" height="10" fill="#c0c0c0"/>
<rect x="178" y="687" width="1" height="9" fill="#c0c0c0"/>
<rect x="186" y="688" width="1" height="8" fill="#c0c0c0"/>
<rect x="194" y="687" width="1" height="9" fill="#c0c0c0"/>
<rect x="202" y="689" width="1" height="7" fill="#c0c0c0"/>
<rect x="210" y="688" width="1" height="8" fill="#c0c0c0"/>
<rect x="218" y="688" width="1" height="8" fill="#c0c0c0"/>
<rect x="226" y="675" width="1" height="21" fill="#c0c0c0"/>
<rect x="234" y="664" width="1" height="32" fill="#c0c0c0"/>
<rect x="242" y="655" width="1" height="41" fill="#c0c0c0"/>
<rect x="250" y="644" width="1" height="52" fill="#c0c0c0"/>
<rect x="258" y="631" width="1" height="65" fill="#c0c0c0"/>
<rect x="266" y="618" width="1" height="78" fill="#c0c0c0"/>
<rect x="274" y="609" width="1" height="87" fill="#c0c0c0"/>
<rect x="282" y="603" width="1" height="93" fill="#c0c0c0"/>
<rect x="290" y="600" width="1" height="96" fill="#c0c0c0"/>
<rect x="298" y="598" width="1" height="98" fill="#c0c0c0"/>
<rect x="306" y="596" width="1" height="100" fill="#c0c0c0"/>
<rect x="314" y="591" width="1" height="105" fill="#c0c0c0"/>
<rect x="322" y="588" width="1" height="108" fill="#c0c0c0"/>
<rect x="330" y="586" width="1" height="110" fill="#c0c0c0"/>
<rect x="338" y="585" width="1" height="111" fill="#c0c0c0"/>
<rect x="346" y="588" width="1" height="108" fill="#c0c0c0"/>
<rect x="354" y="592" width="1" height="104" fill="#c0c0c0"/>
<rect x="362" y="600" width="1" height="96" fill="#c0c0c0"/>
<rect x="370" y="608" width="1" height="88" fill="#c0c0c0"/>
<rect x="378" y="615" width="1" height="81" fill="#c0c0c0"/>
<rect x="386" y="620" width="1" height="76" fill="#c0c0c0"/>
<rect x="394" y="624" width="1" height="72" fill="#c0c0c0"/>
<rect x="402" y="627" width="1" height="69" fill="#c0c0c0"/>
<rect x="410" y="631" width="1" height="65" fill="#c0c0c0"/>
<rect x="418" y="637" width="1" height="59" fill="#c0c0c0"/>
<rect x="426" y="642" width="1" height="54" fill="#c0c0c0"/>
<rect x="434" y="645" width="1" height="51" fill="#c0c0c0"/>
<rect x="442" y="650" width="1" height="46" fill="#c0c0c0"/>
<rect x="450" y="655" width="1" height="41" fill="#c0c0c0"/>
<rect x="458" y="660" width="1" height="36" fill="#c0c0c0"/>
<rect x="466" y="662" width="1" height="34" fill="#c0c0c0"/>
<rect x="474" y="665" width="1" height="31" fill="#c0c0c0"/>
<rect x="482" y="666" width="1" height="30" fill="#c0c0c0"/>
<rect x="490" y="667" width="1" height="29" fill="#c0c0c0"/>
<rect x="498" y="668" width="1" height="28" fill="#c0c0c0"/>
<rect x="506" y="670" width="1" height="26" fill="#c0c0c0"/>
<rect x="514" y="673" width="1" height="23" fill="#c0c0c0"/>
<rect x="522" y="675" width="1" height="21" fill="#c0c0c0"/>
<rect x="530" y="678" width="1" height="18" fill="#c0c0c0"/>
<rect x="538" y="681" width="1" height="15" fill="#c0c0c0"/>
<rect x="546" y="684" width="1" height="12" fill="#c0c0c0"/>
<rect x="554" y="685" width="1" height="11" fill="#c0c0c0"/>
<rect x="562" y="686" width="1" height="10" fill="#c0c0c0"/>
<rect x="570" y="689" width="1" height="7" fill="#c0c0c0"/>
<rect x="578" y="689" width="1" height="7" fill="#c0c0c0"/>
<rect x="586" y="690" width="1" height="6" fill="#c0c0c0"/>
<rect x="594" y="685" width="1" height="11" fill="#c0c0c0"/>
<rect x="602" y="686" width="1" height="10" fill="#c0c0c0"/>
<rect x="610" y="685" width="1" height="11" fill="#c0c0c0"/>
<rect x="618" y="684" width="1" height="12" fill="#c0c0c0"/>
<rect x="626" y="682" width="1" height="14" fill="#c0c0c0"/>
<rect x="634" y="681" width="1" height="15" fill="#c0c0c0"/>
<rect x="642" y="678" width="1" height="18" fill="#c0c0c0"/>
<rect x="650" y="679" width="1" height="17" fill="#c0c0c0"/>
<rect x="658" y="678" width="1" height="18" fill="#c0c0c0"/>
<rect x="666" y="678" width="1" height="18" fill="#c0c0c0"/>
<rect x="674" y="678" width="1" height="18" fill="#c0c0c0"/>
<rect x="682" y="676" width="1" height="20" fill="#c0c0c0"/>
<rect x="690" y="674" width="1" height="22" fill="#c0c0c0"/>
<rect x="698" y="669" width="1" height="27" fill="#c0c0c0"/>
<rect x="706" y="665" width="1" height="31" fill="#c0c0c0"/>
<rect x="714" y="663" width="1" height="33" fill="#c0c0c0"/>
<rect x="722" y="661" width="1" height="35" fill="#c0c0c0"/>
<rect x="730" y="659" width="1" height="37" fill="#c0c0c0"/>
<rect x="738" y="659" width="1" height="37" fill="#c0c0c0"/>
<rect x="746" y="660" width="1" height="36" fill="#c0c0c0"/>
<rect x="754" y="660" width="1" height="36" fill="#c0c0c0"/>
<rect x="762" y="660" width="1" height="36" fill="#c0c0c0"/>
<rect x="770" y="660" width="1" height="36" fill="#c0c0c0"/>
<rect x="778" y="659" width="1" height="37" fill="#c0c0c0"/>
<rect x="786" y="661" width="1" height="35" fill="#c0c0c0"/>
<rect x="794" y="668" width="1" height="28" fill="#c0c0c0"/>
<rect x="802" y="676" width="1" height="20" fill="#c0c0c0"/>
<rect x="810" y="681" width="1" height="15" fill="#c0c0c0"/>
<rect x="818" y="684" width="1" height="12" fill="#c0c0c0"/>
<rect x="826" y="688" width="1" height="8" fill="#c0c0c0"/>
<rect x="834" y="691" width="1" height="5" fill="#c0c0c0"/>
<rect x="842" y="693" width="1" height="3" fill="#c0c0c0"/>
<rect x="850" y="694" width="1" height="2" fill="#c0c0c0"/>
<rect x="858" y="695" width="1" height="1" fill="#c0c0c0"/>
<rect x="866" y="695" width="1" height="4" fill="#c0c0c0"/>
<rect x="874" y="695" width="1" height="5" fill="#c0c0c0"/>
<rect x="882" y="695" width="1" height="3" fill="#c0c0c0"/>
<rect x="890" y="694" width="1" height="2" fill="#c0c0c0"/>
<rect x="898" y="691" width="1" height="5" fill="#c0c0c0"/>
<rect x="906" y="689" width="1" height="7" fill="#c0c0c0"/>
<rect x="914" y="689" width="1" height="7" fill="#c0c0c0"/>
<rect x="922" y="690" width="1" height="6" fill="#c0c0c0"/>
<rect x="930" y="690" width="1" height="6" fill="#c0c0c0"/>
<rect x="938" y="687" width="1" height="9" fill="#c0c0c0"/>
<rect x="946" y="685" width="1" height="11" fill="#c0c0c0"/>
<rect x="954" y="683" width="1" height="13" fill="#c0c0c0"/>
<rect x="962" y="682" width="1" height="14" fill="#c0c0c0"/>
<rect x="970" y="689" width="1" height="7" fill="#c0c0c0"/>
<rect x="978" y="695" width="1" height="5" fill="#c0c0c0"/>
<rect x="986" y="695" width="1" height="16" fill="#c0c0c0"/>
<rect x="994" y="695" width="1" height="25" fill="#c0c0c0"/>
<rect x="1002" y="695" width="1" height="31" fill="#c0c0c0"/>
<rect x="1010" y="695" width="1" height="36" fill="#c0c0c0"/>
<rect x="1018" y="695" width="1" height="39" fill="#c0c0c0"/>
<rect x="1026" y="695" width="1" height="40" fill="#c0c0c0"/>
<rect x="1034" y="695" width="1" height="42" fill="#c0c0c0"/>
<rect x="1042" y="695" width="1" height="44" fill="#c0c0c0"/>
<rect x="1050" y="695" width="1" height="45" fill="#c0c0c0"/>
<rect x="1058" y="695" width="1" height="44" fill="#c0c0c0"/>
<rect x="1066" y="695" width="1" height="45" fill="#c0c0c0"/>
<rect x="1074" y="695" width="1" height="40" fill="#c0c0c0"/>
<rect x="1082" y="695" width="1" height="38" fill="#c0c0c0"/>
<rect x="1090" y="695" width="1" height="37" fill="#c0c0c0"/>
<rect x="1098" y="695" width="1" height="35" fill="#c0c0c0"/>
<rect x="1106" y="695" width="1" height="34" fill="#c0c0c0"/>
<rect x="1114" y="695" width="1" height="31" fill="#c0c0c0"/>
<rect x="1122" y="695" width="1" height="27" fill="#c0c0c0"/>
<rect x="1130" y="695" width="1" height="24" fill="#c0c0c0"/>
<rect x="1138" y="695" width="1" height="18" fill="#c0c0c0"/>
<rect x="1146" y="695" width="1" height="13" fill="#c0c0c0"/>
<rect x="1154" y="695" width="1" height="10" fill="#c0c0c0"/>
<rect x="1162" y="695" width="1" height="7" fill="#c0c0c0"/>
<rect x="1170" y="695" width="1" height="4" fill="#c0c0c0"/>
<rect x="1178" y="695" width="1" height="7" fill="#c0c0c0"/>
<rect x="1186" y="695" width="1" height="10" fill="#c0c0c0"/>
<rect x="1194" y="695" width="1" height="13" fill="#c0c0c0"/>
<rect x="1202" y="695" width="1" height="15" fill="#c0c0c0"/>
<rect x="1210" y="695" width="1" height="16" fill="#c0c0c0"/>
<rect x="1218" y="695" width="1" height="13" fill="#c0c0c0"/>
<rect x="1226" y="695" width="1" height="8" fill="#c0c0c0"/>
<rect x="1234" y="695" width="1" height="6" fill="#c0c0c0"/>
<rect x="1242" y="695" width="1" height="4" fill="#c0c0c0"/>
<rect x="1250" y="695" width="1" height="1" fill="#c0c0c0"/>
<rect x="1258" y="691" width="1" height="5" fill="#c0c0c0"/>
<rect x="1266" y="688" width="1" height="8" fill="#c0c0c0"/>
<rect x="1274" y="686" width="1" height="10" fill="#c0c0c0"/>
<rect x="1282" y="685" width="1" height="11" fill="#c0c0c0"/>
<rect x="1290" y="685" width="1" height="11" fill="#c0c0c0"/>
<rect x="1298" y="684" width="1" height="12" fill="#c0c0c0"/>
<rect x="1306" y="682" width="1" height="14" fill="#c0c0c0"/>
<rect x="1314" y="680" width="1" height="16" fill="#c0c0c0"/>
<rect x="1322" y="683" width="1" height="13" fill="#c0c0c0"/>
<rect x="1330" y="685" width="1" height="11" fill="#c0c0c0"/>
<rect x="1338" y="686" width="1" height="10" fill="#c0c0c0"/>
<rect x="1346" y="688" width="1" height="8" fill="#c0c0c0"/>
<rect x="1354" y="689" width="1" height="7" fill="#c0c0c0"/>
<rect x="1362" y="688" width="1" height="8" fill="#c0c0c0"/>
<rect x="1370" y="684" width="1" height="12" fill="#c0c0c0"/>
<rect x="1378" y="682" width="1" height="14" fill="#c0c0c0"/>
<rect x="1386" y="680" width="1" height="16" fill="#c0c0c0"/>
<rect x="1394" y="679" width="1" height="17" fill="#c0c0c0"/>
</g>
<polyline fill="none" stroke="#ff0000" stroke-width="1" stroke-dasharray="3,3" clip-path="url(#cmacd)" points="2.5,713.5 10.5,712.5 18.5,712.5 26.5,712.5 34.5,712.5 42.5,712.5 50.5,712.5 58.5,712.5 66.5,712.5 74.5,711.5 82.5,710.5 90.5,709.5 98.5,707.5 106.5,705.5 114.5,703.5 122.5,700.5 130.5,696.5 138.5,694.5 146.5,691.5 154.5,690.5 162.5,688.5 170.5,687.5 178.5,687.5 186.5,687.5 194.5,686.5 202.5,687.5 210.5,687.5 218.5,687.5 226.5,686.5 234.5,684.5 242.5,680.5 250.5,675.5 258.5,669.5 266.5,661.5 274.5,653.5 282.5,643.5 290.5,633.5 298.5,625.5 306.5,617.5 314.5,610.5 322.5,604.5 330.5,599.5 338.5,595.5 346.5,593.5 354.5,592.5 362.5,592.5 370.5,593.5 378.5,595.5 386.5,598.5 394.5,602.5 402.5,607.5 410.5,612.5 418.5,617.5 426.5,623.5 434.5,628.5 442.5,632.5 450.5,637.5 458.5,641.5 466.5,646.5 474.5,650.5 482.5,654.5 490.5,657.5 498.5,660.5 506.5,663.5 514.5,665.5 522.5,668.5 530.5,670.5 538.5,672.5 546.5,674.5 554.5,676.5 562.5,678.5 570.5,680.5 578.5,682.5 586.5,684.5 594.5,685.5 602.5,686.5 610.5,687.5 618.5,687.5 626.5,686.5 634.5,686.5 642.5,684.5 650.5,683.5 658.5,682.5 666.5,681.5 674.5,680.5 682.5,679.5 690.5,678.5 698.5,677.5 706.5,675.5 714.5,673.5 722.5,671.5 730.5,669.5 738.5,667.5 746.5,665.5 754.5,663.5 762.5,662.5 770.5,661.5 778.5,660.5 786.5,660.5 794.5,661.5 802.5,662.5 810.5,665.5 818.5,668.5 826.5,671.5 834.5,674.5 842.5,678.5 850.5,682.5 858.5,685.5 866.5,689.5 874.5,691.5 882.5,693.5 890.5,694.5 898.5,695.5 906.5,694.5 914.5,694.5 922.5,693.5 930.5,693.5 938.5,692.5 946.5,690.5 954.5,689.5 962.5,687.5 970.5,687.5 978.5,688.5 986.5,691.5 994.5,694.5 1002.5,698.5 1010.5,702.5 1018.5,708.5 1026.5,714.5 1034.5,720.5 1042.5,725.5 1050.5,729.5 1058.5,732.5 1066.5,735.5 1074.5,736.5 1082.5,736.5 1090.5,736.5 1098.5,735.5 1106.5,734.5 1114.5,733.5 1122.5,731.5 1130.5,729.5 1138.5,726.5 1146.5,723.5 1154.5,720.5 1162.5,716.5 1170.5,713.5 1178.5,710.5 1186.5,707.5 1194.5,706.5 1202.5,705.5 1210.5,705.5 1218.5,705.5 1226.5,704.5 1234.5,704.5 1242.5,704.5 1250.5,704.5 1258.5,702.5 1266.5,700.5 1274.5,698.5 1282.5,695.5 1290.5,692.5 1298.5,690.5 1306.5,688.5 1314.5,686.5 1322.5,685.5 1330.5,684.5 1338.5,684.5 1346.5,684.5 1354.5,685.5 1362.5,685.5 1370.5,685.5 1378.5,685.5 1386.5,685.5 1394.5,685.5"/>
<line x1="2" y1="785.5" x2="1660" y2="785.5" stroke="#c0c0c0" stroke-width="1" stroke-dasharray="3,3"/>
<line x1="2" y1="836.5" x2="1660" y2="836.5" stroke="#c0c0c0" stroke-width="1" stroke-dasharray="3,3"/>
<line x1="2" y1="897.5" x2="1660" y2="897.5" stroke="#c0c0c0" stroke-width="1" stroke-dasharray="3,3"/>
<polyline fill="none" stroke="#1e90ff" stroke-width="1" clip-path="url(#crsi)" points="2.5,854.5 10.5,843.5 18.5,849.5 26.5,856.5 34.5,857.5 42.5,859.5 50.5,865.5 58.5,860.5 66.5,832.5 74.5,817.5 82.5,822.5 90.5,830.5 98.5,824.5 106.5,822.5 114.5,828.5 122.5,823.5 130.5,820.5 138.5,822.5 146.5,821.5 154.5,843.5 162.5,822.5 170.5,833.5 178.5,835.5 186.5,833.5 194.5,830.5 202.5,838.5 210.5,827.5 218.5,833.5 226.5,798.5 234.5,797.5 242.5,797.5 250.5,789.5 258.5,784.5 266.5,781.5 274.5,780.5 282.5,781.5 290.5,787.5 298.5,786.5 306.5,784.5 314.5,779.5 322.5,779.5 330.5,778.5 338.5,777.5 346.5,787.5 354.5,793.5 362.5,809.5 370.5,815.5 378.5,811.5 386.5,810.5 394.5,809.5 402.5,805.5 410.5,807.5 418.5,821.5 426.5,818.5 434.5,815.5 442.5,825.5 450.5,825.5 458.5,832.5 466.5,822.5 474.5,826.5 482.5,820.5 490.5,819.5 498.5,824.5 506.5,824.5 514.5,831.5 522.5,830.5 530.5,835.5 538.5,838.5 546.5,836.5 554.5,834.5 562.5,832.5 570.5,843.5 578.5,828.5 586.5,836.5 594.5,814.5 602.5,832.5 610.5,826.5 618.5,826.5 626.5,821.5 634.5,823.5 642.5,814.5 650.5,829.5 658.5,824.5 666.5,824.5 674.5,822.5 682.5,818.5 690.5,813.5 698.5,803.5 706.5,803.5 714.5,805.5 722.5,803.5 730.5,800.5 738.5,813.5 746.5,811.5 754.5,809.5 762.5,808.5 770.5,807.5 778.5,801.5 786.5,819.5 794.5,841.5 802.5,851.5 810.5,843.5 818.5,839.5 826.5,844.5 834.5,845.5 842.5,841.5 850.5,839.5 858.5,839.5 866.5,848.5 874.5,844.5 882.5,832.5 890.5,824.5 898.5,822.5 906.5,821.5 914.5,829.5 922.5,835.5 930.5,832.5 938.5,821.5 946.5,819.5 954.5,818.5 962.5,819.5 970.5,856.5 978.5,867.5 986.5,873.5 994.5,874.5 1002.5,874.5 1010.5,871.5 1018.5,872.5 1026.5,868.5 1034.5,869.5 1042.5,874.5 1050.5,874.5 1058.5,867.5 1066.5,871.5 1074.5,846.5 1082.5,852.5 1090.5,854.5 1098.5,854.5 1106.5,857.5 1114.5,847.5 1122.5,839.5 1130.5,841.5 1138.5,826.5 1146.5,825.5 1154.5,831.5 1162.5,828.5 1170.5,828.5 1178.5,849.5 1186.5,855.5 1194.5,852.5 1202.5,854.5 1210.5,854.5 1218.5,835.5 1226.5,824.5 1234.5,831.5 1242.5,830.5 1250.5,826.5 1258.5,819.5 1266.5,818.5 1274.5,823.5 1282.5,821.5 1290.5,830.5 1298.5,826.5 1306.5,817.5 1314.5,815.5 1322.5,839.5 1330.5,838.5 1338.5,833.5 1346.5,839.5 1354.5,834.5 1362.5,827.5 1370.5,815.5 1378.5,820.5 1386.5,820.5 1394.5,820.5"/>
<rect x="1.5" y="22.5" width="1659" height="553" fill="none" stroke="#000" stroke-width="1"/>
<rect x="1.5" y="577.5" width="1659" height="170" fill="none" stroke="#000" stroke-width="1"/>
<rect x="1.5" y="749.5" width="1659" height="174" fill="none" stroke="#000" stroke-width="1"/>
<rect x="1661" y="44" width="3" height="1" fill="#000"/>
<text x="1666" y="48" fill="#000" font-size="10" text-anchor="start" font-weight="normal" textLength="33" lengthAdjust="spacingAndGlyphs" stroke="#000" stroke-width="0.25" >0.92770</text>
<rect x="1661" y="77" width="3" height="1" fill="#000"/>
<text x="1666" y="81" fill="#000" font-size="10" text-anchor="start" font-weight="normal" textLength="33" lengthAdjust="spacingAndGlyphs" stroke="#000" stroke-width="0.25" >0.92550</text>
<rect x="1661" y="110" width="3" height="1" fill="#000"/>
<text x="1666" y="114" fill="#000" font-size="10" text-anchor="start" font-weight="normal" textLength="33" lengthAdjust="spacingAndGlyphs" stroke="#000" stroke-width="0.25" >0.92330</text>
<rect x="1661" y="176" width="3" height="1" fill="#000"/>
<text x="1666" y="180" fill="#000" font-size="10" text-anchor="start" font-weight="normal" textLength="33" lengthAdjust="spacingAndGlyphs" stroke="#000" stroke-width="0.25" >0.91890</text>
<rect x="1661" y="209" width="3" height="1" fill="#000"/>
<text x="1666" y="213" fill="#000" font-size="10" text-anchor="start" font-weight="normal" textLength="33" lengthAdjust="spacingAndGlyphs" stroke="#000" stroke-width="0.25" >0.91670</text>
<rect x="1661" y="242" width="3" height="1" fill="#000"/>
<text x="1666" y="246" fill="#000" font-size="10" text-anchor="start" font-weight="normal" textLength="33" lengthAdjust="spacingAndGlyphs" stroke="#000" stroke-width="0.25" >0.91450</text>
<rect x="1661" y="275" width="3" height="1" fill="#000"/>
<text x="1666" y="279" fill="#000" font-size="10" text-anchor="start" font-weight="normal" textLength="33" lengthAdjust="spacingAndGlyphs" stroke="#000" stroke-width="0.25" >0.91230</text>
<rect x="1661" y="308" width="3" height="1" fill="#000"/>
<text x="1666" y="312" fill="#000" font-size="10" text-anchor="start" font-weight="normal" textLength="33" lengthAdjust="spacingAndGlyphs" stroke="#000" stroke-width="0.25" >0.91010</text>
<rect x="1661" y="341" width="3" height="1" fill="#000"/>
<text x="1666" y="345" fill="#000" font-size="10" text-anchor="start" font-weight="normal" textLength="33" lengthAdjust="spacingAndGlyphs" stroke="#000" stroke-width="0.25" >0.90790</text>
<rect x="1661" y="374" width="3" height="1" fill="#000"/>
<text x="1666" y="378" fill="#000" font-size="10" text-anchor="start" font-weight="normal" textLength="33" lengthAdjust="spacingAndGlyphs" stroke="#000" stroke-width="0.25" >0.90570</text>
<rect x="1661" y="407" width="3" height="1" fill="#000"/>
<text x="1666" y="411" fill="#000" font-size="10" text-anchor="start" font-weight="normal" textLength="33" lengthAdjust="spacingAndGlyphs" stroke="#000" stroke-width="0.25" >0.90350</text>
<rect x="1661" y="440" width="3" height="1" fill="#000"/>
<text x="1666" y="444" fill="#000" font-size="10" text-anchor="start" font-weight="normal" textLength="33" lengthAdjust="spacingAndGlyphs" stroke="#000" stroke-width="0.25" >0.90125</text>
<rect x="1661" y="473" width="3" height="1" fill="#000"/>
<text x="1666" y="477" fill="#000" font-size="10" text-anchor="start" font-weight="normal" textLength="33" lengthAdjust="spacingAndGlyphs" stroke="#000" stroke-width="0.25" >0.89905</text>
<rect x="1661" y="506" width="3" height="1" fill="#000"/>
<text x="1666" y="510" fill="#000" font-size="10" text-anchor="start" font-weight="normal" textLength="33" lengthAdjust="spacingAndGlyphs" stroke="#000" stroke-width="0.25" >0.89685</text>
<rect x="1661" y="539" width="3" height="1" fill="#000"/>
<text x="1666" y="543" fill="#000" font-size="10" text-anchor="start" font-weight="normal" textLength="33" lengthAdjust="spacingAndGlyphs" stroke="#000" stroke-width="0.25" >0.89465</text>
<rect x="1661" y="572" width="3" height="1" fill="#000"/>
<text x="1666" y="576" fill="#000" font-size="10" text-anchor="start" font-weight="normal" textLength="33" lengthAdjust="spacingAndGlyphs" stroke="#000" stroke-width="0.25" >0.89245</text>
<rect x="1662" y="96" width="41" height="11" fill="#ff0000"/>
<text x="1666" y="105.5" fill="#fff" font-size="10" text-anchor="start" font-weight="normal" textLength="33" lengthAdjust="spacingAndGlyphs" stroke="#fff" stroke-width="0.25" >0.92383</text>
<rect x="1662" y="117" width="41" height="11" fill="#ff0000"/>
<text x="1666" y="126.5" fill="#fff" font-size="10" text-anchor="start" font-weight="normal" textLength="33" lengthAdjust="spacingAndGlyphs" stroke="#fff" stroke-width="0.25" >0.92243</text>
<rect x="1662" y="136" width="41" height="10" fill="#000000"/>
<text x="1666" y="144.5" fill="#fff" font-size="10" text-anchor="start" font-weight="normal" textLength="33" lengthAdjust="spacingAndGlyphs" stroke="#fff" stroke-width="0.25" >0.92126</text>
<rect x="1662" y="146" width="41" height="11" fill="#ffa500"/>
<text x="1666" y="155.5" fill="#fff" font-size="10" text-anchor="start" font-weight="normal" textLength="33" lengthAdjust="spacingAndGlyphs" stroke="#fff" stroke-width="0.25" >0.92050</text>
<rect x="1662" y="160" width="41" height="11" fill="#0000ff"/>
<text x="1666" y="169.5" fill="#fff" font-size="10" text-anchor="start" font-weight="normal" textLength="33" lengthAdjust="spacingAndGlyphs" stroke="#fff" stroke-width="0.25" >0.91957</text>
<rect x="1662" y="179" width="41" height="11" fill="#0000ff"/>
<text x="1666" y="188.5" fill="#fff" font-size="10" text-anchor="start" font-weight="normal" textLength="33" lengthAdjust="spacingAndGlyphs" stroke="#fff" stroke-width="0.25" >0.91830</text>
<text x="1665" y="589" fill="#000" font-size="10" text-anchor="start" font-weight="normal" textLength="37" lengthAdjust="spacingAndGlyphs" stroke="#000" stroke-width="0.25" >0.006351</text>
<rect x="1661" y="580" width="3" height="1" fill="#000"/>
<rect x="1661" y="695" width="3" height="1" fill="#000"/>
<text x="1665" y="699.5" fill="#000" font-size="10" text-anchor="start" font-weight="normal" textLength="19" lengthAdjust="spacingAndGlyphs" stroke="#000" stroke-width="0.25" >0.00</text>
<rect x="1661" y="746" width="3" height="1" fill="#000"/>
<text x="1664" y="745" fill="#000" font-size="10" text-anchor="start" font-weight="normal" textLength="41" lengthAdjust="spacingAndGlyphs" stroke="#000" stroke-width="0.25" >-0.002779</text>
<rect x="1661" y="751" width="3" height="1" fill="#000"/>
<text x="1665" y="760.5" fill="#000" font-size="10" text-anchor="start" font-weight="normal" textLength="15" lengthAdjust="spacingAndGlyphs" stroke="#000" stroke-width="0.25" >100</text>
<rect x="1661" y="922" width="3" height="1" fill="#000"/>
<text x="1663.5" y="789" fill="#000" font-size="10" text-anchor="start" font-weight="normal" textLength="10" lengthAdjust="spacingAndGlyphs" stroke="#000" stroke-width="0.25" >80</text>
<text x="1663.5" y="840" fill="#000" font-size="10" text-anchor="start" font-weight="normal" textLength="10" lengthAdjust="spacingAndGlyphs" stroke="#000" stroke-width="0.25" >50</text>
<text x="1663.5" y="901" fill="#000" font-size="10" text-anchor="start" font-weight="normal" textLength="10" lengthAdjust="spacingAndGlyphs" stroke="#000" stroke-width="0.25" >15</text>
<text x="1663.5" y="919" fill="#000" font-size="10" text-anchor="start" font-weight="normal" textLength="5" lengthAdjust="spacingAndGlyphs" stroke="#000" stroke-width="0.25" >0</text>
<rect x="2" y="923" width="1" height="4" fill="#000"/>
<text x="2" y="936" fill="#000" font-size="9.5" text-anchor="start" font-weight="normal" textLength="49.9" lengthAdjust="spacingAndGlyphs" stroke="#000" stroke-width="0.25" >10 Jun 2021</text>
<rect x="66" y="923" width="1" height="4" fill="#000"/>
<text x="66" y="936" fill="#000" font-size="9.5" text-anchor="start" font-weight="normal" textLength="51.8" lengthAdjust="spacingAndGlyphs" stroke="#000" stroke-width="0.25" >11 Jun 08:00</text>
<rect x="130" y="923" width="1" height="4" fill="#000"/>
<text x="130" y="936" fill="#000" font-size="9.5" text-anchor="start" font-weight="normal" textLength="52.5" lengthAdjust="spacingAndGlyphs" stroke="#000" stroke-width="0.25" >14 Jun 16:00</text>
<rect x="194" y="923" width="1" height="4" fill="#000"/>
<text x="194" y="936" fill="#000" font-size="9.5" text-anchor="start" font-weight="normal" textLength="52.5" lengthAdjust="spacingAndGlyphs" stroke="#000" stroke-width="0.25" >16 Jun 00:00</text>
<rect x="258" y="923" width="1" height="4" fill="#000"/>
<text x="258" y="936" fill="#000" font-size="9.5" text-anchor="start" font-weight="normal" textLength="52.5" lengthAdjust="spacingAndGlyphs" stroke="#000" stroke-width="0.25" >17 Jun 08:00</text>
<rect x="322" y="923" width="1" height="4" fill="#000"/>
<text x="322" y="936" fill="#000" font-size="9.5" text-anchor="start" font-weight="normal" textLength="52.5" lengthAdjust="spacingAndGlyphs" stroke="#000" stroke-width="0.25" >18 Jun 16:00</text>
<rect x="386" y="923" width="1" height="4" fill="#000"/>
<text x="386" y="936" fill="#000" font-size="9.5" text-anchor="start" font-weight="normal" textLength="52.5" lengthAdjust="spacingAndGlyphs" stroke="#000" stroke-width="0.25" >22 Jun 00:00</text>
<rect x="450" y="923" width="1" height="4" fill="#000"/>
<text x="450" y="936" fill="#000" font-size="9.5" text-anchor="start" font-weight="normal" textLength="52.5" lengthAdjust="spacingAndGlyphs" stroke="#000" stroke-width="0.25" >23 Jun 08:00</text>
<rect x="514" y="923" width="1" height="4" fill="#000"/>
<text x="514" y="936" fill="#000" font-size="9.5" text-anchor="start" font-weight="normal" textLength="52.5" lengthAdjust="spacingAndGlyphs" stroke="#000" stroke-width="0.25" >24 Jun 16:00</text>
<rect x="578" y="923" width="1" height="4" fill="#000"/>
<text x="578" y="936" fill="#000" font-size="9.5" text-anchor="start" font-weight="normal" textLength="52.5" lengthAdjust="spacingAndGlyphs" stroke="#000" stroke-width="0.25" >28 Jun 00:00</text>
<rect x="642" y="923" width="1" height="4" fill="#000"/>
<text x="642" y="936" fill="#000" font-size="9.5" text-anchor="start" font-weight="normal" textLength="52.5" lengthAdjust="spacingAndGlyphs" stroke="#000" stroke-width="0.25" >29 Jun 08:00</text>
<rect x="706" y="923" width="1" height="4" fill="#000"/>
<text x="706" y="936" fill="#000" font-size="9.5" text-anchor="start" font-weight="normal" textLength="52.5" lengthAdjust="spacingAndGlyphs" stroke="#000" stroke-width="0.25" >30 Jun 16:00</text>
<rect x="770" y="923" width="1" height="4" fill="#000"/>
<text x="770" y="936" fill="#000" font-size="9.5" text-anchor="start" font-weight="normal" textLength="44.4" lengthAdjust="spacingAndGlyphs" stroke="#000" stroke-width="0.25" >2 Jul 00:00</text>
<rect x="834" y="923" width="1" height="4" fill="#000"/>
<text x="834" y="936" fill="#000" font-size="9.5" text-anchor="start" font-weight="normal" textLength="44.4" lengthAdjust="spacingAndGlyphs" stroke="#000" stroke-width="0.25" >5 Jul 08:00</text>
<rect x="898" y="923" width="1" height="4" fill="#000"/>
<text x="898" y="936" fill="#000" font-size="9.5" text-anchor="start" font-weight="normal" textLength="44.4" lengthAdjust="spacingAndGlyphs" stroke="#000" stroke-width="0.25" >6 Jul 16:00</text>
<rect x="962" y="923" width="1" height="4" fill="#000"/>
<text x="962" y="936" fill="#000" font-size="9.5" text-anchor="start" font-weight="normal" textLength="44.4" lengthAdjust="spacingAndGlyphs" stroke="#000" stroke-width="0.25" >8 Jul 00:00</text>
<rect x="1026" y="923" width="1" height="4" fill="#000"/>
<text x="1026" y="936" fill="#000" font-size="9.5" text-anchor="start" font-weight="normal" textLength="44.4" lengthAdjust="spacingAndGlyphs" stroke="#000" stroke-width="0.25" >9 Jul 08:00</text>
<rect x="1090" y="923" width="1" height="4" fill="#000"/>
<text x="1090" y="936" fill="#000" font-size="9.5" text-anchor="start" font-weight="normal" textLength="49.4" lengthAdjust="spacingAndGlyphs" stroke="#000" stroke-width="0.25" >12 Jul 16:00</text>
<rect x="1154" y="923" width="1" height="4" fill="#000"/>
<text x="1154" y="936" fill="#000" font-size="9.5" text-anchor="start" font-weight="normal" textLength="49.4" lengthAdjust="spacingAndGlyphs" stroke="#000" stroke-width="0.25" >14 Jul 00:00</text>
<rect x="1218" y="923" width="1" height="4" fill="#000"/>
<text x="1218" y="936" fill="#000" font-size="9.5" text-anchor="start" font-weight="normal" textLength="49.4" lengthAdjust="spacingAndGlyphs" stroke="#000" stroke-width="0.25" >15 Jul 08:00</text>
<rect x="1282" y="923" width="1" height="4" fill="#000"/>
<text x="1282" y="936" fill="#000" font-size="9.5" text-anchor="start" font-weight="normal" textLength="49.4" lengthAdjust="spacingAndGlyphs" stroke="#000" stroke-width="0.25" >16 Jul 16:00</text>
<rect x="1346" y="923" width="1" height="4" fill="#000"/>
<text x="1346" y="936" fill="#000" font-size="9.5" text-anchor="start" font-weight="normal" textLength="49.4" lengthAdjust="spacingAndGlyphs" stroke="#000" stroke-width="0.25" >20 Jul 00:00</text>
<text x="6" y="590" fill="#000" font-size="10" text-anchor="start" font-weight="normal" textLength="148" lengthAdjust="spacingAndGlyphs" stroke="#000" stroke-width="0.25" >MACD(12,26,9) 0.000865 0.000565</text>
<text x="6" y="762" fill="#000" font-size="10" text-anchor="start" font-weight="normal" textLength="68" lengthAdjust="spacingAndGlyphs" stroke="#000" stroke-width="0.25" >RSI(14) 59.6751</text>
<line x1="1222.7" y1="273.7" x2="1313.47" y2="140.46" stroke="#ff0000" stroke-width="4" shape-rendering="auto"/>
<polygon fill="#ff0000" shape-rendering="auto" points="1319.1,132.2 1316.48,144.93 1308.21,139.3"/>
<line x1="1319.5" y1="136.5" x2="1332.13" y2="206.96" stroke="#ff0000" stroke-width="4" shape-rendering="auto"/>
<polygon fill="#ff0000" shape-rendering="auto" points="1333.9,216.8 1326.86,205.87 1336.7,204.11"/>
<line x1="1333.9" y1="214" x2="1386.83" y2="113.84" stroke="#ff0000" stroke-width="4" shape-rendering="auto"/>
<polygon fill="#ff0000" shape-rendering="auto" points="1391.5,105 1390.31,117.95 1381.47,113.27"/>
<rect x="1318" y="150" width="129" height="6" fill="#00ff00"/>
<line x1="1242.6" y1="699.5" x2="1392.65" y2="683.36" stroke="#ff0000" stroke-width="3.2" shape-rendering="auto"/>
<polygon fill="#ff0000" shape-rendering="auto" points="1400.6,682.5 1391.09,687.55 1390.23,679.59"/>
<line x1="1324.2" y1="837.3" x2="1388.19" y2="819.63" stroke="#ff0000" stroke-width="3.2" shape-rendering="auto"/>
<polygon fill="#ff0000" shape-rendering="auto" points="1395.9,817.5 1387.33,824.02 1385.2,816.31"/>
<rect x="768" y="48" width="11" height="1" fill="#ff0000"/>
<rect x="707.5" y="40.5" width="61" height="18" fill="#fff" stroke="#ff0000" stroke-width="1"/>
<text x="738" y="56" fill="#ff0000" font-size="16.5" text-anchor="middle" font-weight="normal" textLength="57" lengthAdjust="spacingAndGlyphs" >0.92743</text>
<rect x="1120" y="161" width="11" height="1" fill="#ff0000"/>
<rect x="1059.5" y="152.5" width="61" height="18" fill="#fff" stroke="#ff0000" stroke-width="1"/>
<text x="1090" y="168" fill="#ff0000" font-size="16.5" text-anchor="middle" font-weight="normal" textLength="57" lengthAdjust="spacingAndGlyphs" >0.91994</text>
<rect x="1131" y="152" width="7" height="1" fill="#ff0000"/>
<rect x="1138.5" y="150.5" width="2" height="3" fill="#fff" stroke="#ff0000" stroke-width="1"/>
<rect x="1141.5" y="140.5" width="73" height="24" fill="#fff" stroke="#ff0000" stroke-width="1"/>
<text x="1178" y="161" fill="#ff0000" font-size="22" text-anchor="middle" font-weight="normal" textLength="70" lengthAdjust="spacingAndGlyphs" >0.92050</text>
<rect x="976" y="261" width="11" height="1" fill="#ff0000"/>
<rect x="915.5" y="252.5" width="61" height="18" fill="#fff" stroke="#ff0000" stroke-width="1"/>
<text x="946" y="268" fill="#ff0000" font-size="16.5" text-anchor="middle" font-weight="normal" textLength="57" lengthAdjust="spacingAndGlyphs" >0.91326</text>
<rect x="1208" y="284" width="11" height="1" fill="#ff0000"/>
<rect x="1147.5" y="275.5" width="61" height="18" fill="#fff" stroke="#ff0000" stroke-width="1"/>
<text x="1178" y="291" fill="#ff0000" font-size="16.5" text-anchor="middle" font-weight="normal" textLength="57" lengthAdjust="spacingAndGlyphs" >0.91169</text>
<rect x="1499.5" y="127.5" width="110" height="24" fill="none" stroke="#404040" stroke-width="1"/>
<path d="M1510.5,129.9 L1505.8,134.6 M1507.7,131.8 L1515.3,131.8 L1506.8,138.3 M1509.6,133.7 L1512.5,135.5 M1513.4,136.4 L1505.8,142.0 M1510.5,138.3 L1518.2,138.3 L1516.2,141.1 L1506.8,146.7 M1511.5,141.1 L1514.3,142.9" fill="none" stroke="#00ff00" stroke-width="1.2" stroke-linecap="square" stroke-linejoin="miter" shape-rendering="auto"/>
<path d="M1532.7,129.0 L1532.7,130.9 M1525.1,134.6 L1525.1,131.8 L1540.3,131.8 L1540.3,134.6 M1530.8,133.7 L1527.0,137.4 M1534.6,133.7 L1538.4,137.4 M1528.0,139.2 L1537.5,139.2 M1532.7,139.2 L1532.7,145.7 M1525.1,145.7 L1540.3,145.7" fill="none" stroke="#00ff00" stroke-width="1.2" stroke-linecap="square" stroke-linejoin="miter" shape-rendering="auto"/>
<path d="M1545.4,132.7 L1552.0,132.7 M1549.2,129.9 L1546.3,138.3 L1552.0,138.3 M1549.2,135.5 L1549.2,146.7 M1545.4,142.0 L1552.0,141.1 M1553.9,132.7 L1561.5,132.7 M1553.9,137.4 L1562.5,137.4 M1557.7,129.9 L1555.8,141.1 L1561.5,141.1 L1558.7,144.8 M1556.8,142.9 L1559.6,146.7" fill="none" stroke="#00ff00" stroke-width="1.2" stroke-linecap="square" stroke-linejoin="miter" shape-rendering="auto"/>
<path d="M1566.5,134.6 L1572.2,134.6 M1569.4,129.9 L1569.4,145.7 L1567.5,143.9 M1566.5,141.1 L1572.2,138.3 M1581.8,129.9 L1575.1,132.7 L1575.1,140.2 L1573.2,146.7 M1575.1,136.4 L1583.6,136.4 M1579.8,136.4 L1579.8,146.7" fill="none" stroke="#00ff00" stroke-width="1.2" stroke-linecap="square" stroke-linejoin="miter" shape-rendering="auto"/>
<path d="M1595.3,129.0 L1595.3,136.4 M1595.3,132.7 L1602.0,132.7 M1590.6,136.4 L1602.0,136.4 L1602.0,141.1 L1590.6,141.1 L1590.6,136.4 M1590.6,143.9 L1588.7,146.7 M1593.5,143.9 L1594.4,146.7 M1597.2,143.9 L1598.2,146.7 M1601.0,143.9 L1603.0,146.7" fill="none" stroke="#00ff00" stroke-width="1.2" stroke-linecap="square" stroke-linejoin="miter" shape-rendering="auto"/>
<polygon points="1405,23 1414,23 1409.5,28" fill="#c0c0c0" shape-rendering="auto"/>
<polygon points="5,33 12,33 8.5,29" fill="#000" shape-rendering="auto"/>
<text x="17.5" y="34" fill="#000" font-size="10" text-anchor="start" font-weight="normal" textLength="57" lengthAdjust="spacingAndGlyphs" stroke="#000" stroke-width="0.25" >USDCHF-,H4</text>
<text x="81" y="34" fill="#000" font-size="10" text-anchor="start" font-weight="normal" textLength="141" lengthAdjust="spacingAndGlyphs" stroke="#000" stroke-width="0.25" >0.92112 0.92126 0.92105 0.92126</text>
<defs><linearGradient id="gb" gradientUnits="userSpaceOnUse" x1="0" y1="42" x2="0" y2="99"><stop offset="0" stop-color="#5a5aff"/><stop offset="0.45" stop-color="#2a2ae0"/><stop offset="1" stop-color="#0000b0"/></linearGradient><linearGradient id="gbtn" x1="0" y1="0" x2="0" y2="1"><stop offset="0" stop-color="#f4f4f4"/><stop offset="1" stop-color="#d4d4d4"/></linearGradient></defs>
<rect x="5" y="42" width="52" height="57" fill="url(#gb)"/>
<rect x="5" y="66" width="109" height="33" fill="url(#gb)"/>
<rect x="172" y="42" width="52" height="57" fill="url(#gb)"/>
<rect x="116" y="66" width="108" height="33" fill="url(#gb)"/>
<rect x="9" y="65" width="44" height="1" fill="#0000a0"/><rect x="9" y="66" width="44" height="1" fill="#8080ff"/>
<rect x="176" y="65" width="44" height="1" fill="#0000a0"/><rect x="176" y="66" width="44" height="1" fill="#8080ff"/>
<path d="M5.5,42.5 H56.5 V65.5 H113.5 V98.5 H5.5 Z" fill="none" stroke="#1818c8" stroke-width="1"/>
<path d="M172.5,42.5 H223.5 V98.5 H116.5 V65.5 H172.5 Z" fill="none" stroke="#1818c8" stroke-width="1"/>
<rect x="59.5" y="42.5" width="110" height="21" fill="#fff" stroke="#c8c8c8" stroke-width="1"/>
<rect x="60.5" y="43.5" width="19" height="19" fill="url(#gbtn)" stroke="#b0b0b0" stroke-width="1"/>
<rect x="149.5" y="43.5" width="19" height="19" fill="url(#gbtn)" stroke="#b0b0b0" stroke-width="1"/>
<polygon points="67,51 73,51 70,54" fill="#6070a0" shape-rendering="auto"/>
<polygon points="156,54 162,54 159,51" fill="#6070a0" shape-rendering="auto"/>
<text x="146" y="57" fill="#000" font-size="12.5" text-anchor="end" font-weight="normal" textLength="23" lengthAdjust="spacingAndGlyphs" >1.00</text>
<text x="30.5" y="58" fill="#fff" font-size="12" text-anchor="middle" font-weight="normal" textLength="26" lengthAdjust="spacingAndGlyphs" stroke="#fff" stroke-width="0.25" >SELL</text>
<text x="197" y="58" fill="#fff" font-size="12" text-anchor="middle" font-weight="normal" textLength="24" lengthAdjust="spacingAndGlyphs" stroke="#fff" stroke-width="0.25" >BUY</text>
<text x="25" y="94" fill="#fff" font-size="12" text-anchor="start" font-weight="bold" textLength="24" lengthAdjust="spacingAndGlyphs" stroke="#fff" stroke-width="0.25" >0.92</text>
<text x="53" y="93" fill="#fff" font-size="33" text-anchor="start" font-weight="normal" textLength="33" lengthAdjust="spacingAndGlyphs" >12</text>
<text x="92" y="77.5" fill="#fff" font-size="11" text-anchor="start" font-weight="bold" textLength="7" lengthAdjust="spacingAndGlyphs" stroke="#fff" stroke-width="0.25" >6</text>
<text x="134.5" y="94" fill="#fff" font-size="12" text-anchor="start" font-weight="bold" textLength="24" lengthAdjust="spacingAndGlyphs" stroke="#fff" stroke-width="0.25" >0.92</text>
<text x="164" y="93" fill="#fff" font-size="33" text-anchor="start" font-weight="normal" textLength="34" lengthAdjust="spacingAndGlyphs" >14</text>
<text x="203" y="77.5" fill="#fff" font-size="11" text-anchor="start" font-weight="bold" textLength="7" lengthAdjust="spacingAndGlyphs" stroke="#fff" stroke-width="0.25" >7</text>
<circle cx="6" cy="5" r="5" fill="#d8e8f8" stroke="#6090c8" stroke-width="1.3" shape-rendering="auto"/>
<line x1="9.5" y1="9" x2="13" y2="13.5" stroke="#c8a030" stroke-width="2.5" shape-rendering="auto"/>
<rect x="21" y="1" width="1" height="14" fill="#a0a0a0"/><rect x="22" y="1" width="1" height="14" fill="#ffffff"/>
<rect x="31.5" y="0" width="9" height="11" fill="#fafafa" stroke="#707070" stroke-width="1"/>
<rect x="33" y="3" width="6" height="1" fill="#909090"/><rect x="33" y="6" width="6" height="1" fill="#909090"/>
<path transform="translate(-0.5,-2.5)" d="M40,8 H43 V11 H46 V14 H43 V17 H40 V14 H37 V11 H40 Z" fill="#30d030" stroke="#108010" stroke-width="0.8" shape-rendering="auto"/>
<path d="M52.5,-1.5 L53.2,-0.7 M50.5,0.1 L55.9,0.1 M51.9,0.8 L52.5,2.4 M54.6,0.8 L53.9,2.4 M50.5,3.2 L55.9,3.2 M53.2,3.2 L53.2,9.4 M50.5,5.5 L55.9,5.5 M52.5,6.3 L50.5,8.6 M53.9,6.3 L55.9,7.9 M60.7,-1.5 L57.3,0.1 L57.3,9.4 M57.3,3.2 L61.4,3.2 M59.3,3.2 L59.3,9.4" fill="none" stroke="#000" stroke-width="1.15" stroke-linecap="square" stroke-linejoin="miter" shape-rendering="auto"/>
<path d="M63.5,-0.7 L64.8,0.8 M62.8,3.2 L64.8,3.2 L64.8,7.9 L66.2,6.3 M67.6,0.1 L73.7,0.1 M71.0,0.1 L71.0,8.6 L69.6,7.9" fill="none" stroke="#000" stroke-width="1.15" stroke-linecap="square" stroke-linejoin="miter" shape-rendering="auto"/>
<path d="M77.8,-1.5 L79.2,0.1 M83.3,-1.5 L81.9,0.1 M77.1,0.8 L83.9,0.8 L83.9,5.5 L77.1,5.5 L77.1,0.8 M77.1,3.2 L83.9,3.2 M80.5,0.8 L80.5,9.4 M75.8,7.1 L85.3,7.1" fill="none" stroke="#000" stroke-width="1.15" stroke-linecap="square" stroke-linejoin="miter" shape-rendering="auto"/>
<path d="M99,9 L106,2 L114,9 L107,16 Z" fill="#e0b030" stroke="#a07010" stroke-width="1" shape-rendering="auto"/>
<rect x="130" y="0" width="8" height="9" fill="#4a90e0"/>
<ellipse cx="134" cy="12" rx="8" ry="3.5" fill="#e8eef8" stroke="#7090b8" stroke-width="1" shape-rendering="auto"/>
<circle cx="162" cy="6" r="7" fill="none" stroke="#80a8e0" stroke-width="1" shape-rendering="auto"/>
<circle cx="162" cy="6" r="4" fill="none" stroke="#6090d8" stroke-width="1" shape-rendering="auto"/>
<circle cx="162" cy="6" r="1.5" fill="#2060c0" shape-rendering="auto"/>
<path d="M162,6 V14 A7,7 0 0 0 169,7" fill="none" stroke="#30a040" stroke-width="1.5" shape-rendering="auto"/>
<ellipse cx="188" cy="3" rx="7" ry="4" fill="#60b0e0" shape-rendering="auto"/>
<path d="M181,5 L195,5 L188,14 Z" fill="#f0d040" shape-rendering="auto"/>
<circle cx="193" cy="10" r="4" fill="#e02020" shape-rendering="auto"/><rect x="191.5" y="8.5" width="3" height="3" fill="#fff"/>
<path d="M207.8,-1.5 L207.1,0.1 M204.4,0.1 L212.5,0.1 L212.5,8.6 L204.4,8.6 L204.4,0.1 M204.4,3.2 L212.5,3.2 M204.4,5.9 L212.5,5.9" fill="none" stroke="#000" stroke-width="1.15" stroke-linecap="square" stroke-linejoin="miter" shape-rendering="auto"/>
<path d="M215.0,0.1 L219.8,0.1 M215.0,3.2 L220.4,3.2 M217.7,3.2 L215.7,7.9 L220.4,7.1 M219.1,5.5 L220.4,7.9 M221.1,1.6 L225.9,1.6 L225.2,8.6 L223.8,7.9 M223.2,-1.5 L223.2,3.2 L221.1,8.6" fill="none" stroke="#000" stroke-width="1.15" stroke-linecap="square" stroke-linejoin="miter" shape-rendering="auto"/>
<path d="M232.4,-1.5 L232.4,-0.7 M227.7,0.1 L237.2,0.1 M230.4,1.6 L228.4,4.0 M234.5,1.6 L236.5,4.0 M234.5,4.0 L229.0,8.6 M230.4,4.7 L236.5,8.6" fill="none" stroke="#000" stroke-width="1.15" stroke-linecap="square" stroke-linejoin="miter" shape-rendering="auto"/>
<path d="M241.7,-1.5 L247.2,-1.5 L247.2,3.2 L241.7,3.2 L241.7,-1.5 M241.7,0.8 L247.2,0.8 M241.7,4.7 L249.2,4.7 L248.5,8.6 L247.2,8.6 M243.1,4.7 L240.4,8.6 M245.1,5.5 L243.1,8.6 M247.2,5.5 L245.1,8.6" fill="none" stroke="#000" stroke-width="1.15" stroke-linecap="square" stroke-linejoin="miter" shape-rendering="auto"/>
<rect x="257" y="1" width="1" height="14" fill="#a0a0a0"/><rect x="258" y="1" width="1" height="14" fill="#ffffff"/>
<rect x="261" y="2" width="3" height="1" fill="#b8b8b8"/>
<rect x="261" y="4" width="3" height="1" fill="#b8b8b8"/>
<rect x="261" y="6" width="3" height="1" fill="#b8b8b8"/>
<rect x="261" y="8" width="3" height="1" fill="#b8b8b8"/>
<rect x="261" y="10" width="3" height="1" fill="#b8b8b8"/>
<rect x="261" y="12" width="3" height="1" fill="#b8b8b8"/>
<rect x="261" y="14" width="3" height="1" fill="#b8b8b8"/>
<rect x="275" y="1" width="1" height="13" fill="#505050"/><rect x="273" y="12" width="14" height="1" fill="#505050"/>
<path d="M279,11 V8 H281 V3 H283" fill="none" stroke="#20a020" stroke-width="1"/>
<rect x="295" y="1" width="1" height="14" fill="#a0a0a0"/><rect x="296" y="1" width="1" height="14" fill="#ffffff"/>
<rect x="296" y="0" width="24" height="16" fill="#f6f6f6"/>
<rect x="303" y="1" width="1" height="13" fill="#505050"/><rect x="301" y="12" width="14" height="1" fill="#505050"/>
<rect x="307" y="2" width="3" height="7" fill="#20c040" stroke="#108020" stroke-width="0.6"/><rect x="308" y="1" width="1" height="10" fill="#108020"/>
<rect x="331" y="1" width="1" height="13" fill="#505050"/><rect x="329" y="12" width="14" height="1" fill="#505050"/>
<path d="M331,9 Q335,2 338,4 T343,8" fill="none" stroke="#20a040" stroke-width="1" shape-rendering="auto"/>
<rect x="352" y="1" width="1" height="14" fill="#a0a0a0"/><rect x="353" y="1" width="1" height="14" fill="#ffffff"/>
<circle cx="367" cy="5" r="5" fill="#e0eefa" stroke="#4a88d0" stroke-width="1.5" shape-rendering="auto"/>
<rect x="364" y="4" width="6" height="2" fill="#3070c0"/>
<rect x="366" y="2" width="2" height="6" fill="#3070c0"/>
<line x1="370.5" y1="9" x2="375" y2="14" stroke="#c8a030" stroke-width="2.5" shape-rendering="auto"/>
<circle cx="395" cy="5" r="5" fill="#e0eefa" stroke="#4a88d0" stroke-width="1.5" shape-rendering="auto"/>
<rect x="392" y="4" width="6" height="2" fill="#3070c0"/>
<line x1="398.5" y1="9" x2="403" y2="14" stroke="#c8a030" stroke-width="2.5" shape-rendering="auto"/>
<rect x="417" y="0" width="7" height="6" fill="#3a7ad0"/><rect x="425" y="0" width="7" height="6" fill="#3a7ad0"/>
<rect x="417" y="7" width="7" height="7" fill="#3070d0"/><rect x="425" y="7" width="7" height="7" fill="#40a040"/>
<rect x="418" y="2" width="5" height="2" fill="#e0ecff"/><rect x="426" y="2" width="5" height="2" fill="#e0ecff"/><rect x="418" y="10" width="5" height="2" fill="#e0ecff"/><rect x="426" y="10" width="5" height="2" fill="#e0ffe0"/>
<rect x="442" y="1" width="1" height="14" fill="#a0a0a0"/><rect x="443" y="1" width="1" height="14" fill="#ffffff"/>
<rect x="446" y="1" width="1" height="14" fill="#a0a0a0"/><rect x="447" y="1" width="1" height="14" fill="#ffffff"/>
<rect x="454" y="1" width="1" height="13" fill="#505050"/><rect x="452" y="12" width="14" height="1" fill="#505050"/>
<polygon points="459,3 459,9 463,6" fill="#20b040"/>
<rect x="475" y="1" width="1" height="14" fill="#a0a0a0"/><rect x="476" y="1" width="1" height="14" fill="#ffffff"/>
<rect x="483" y="1" width="1" height="13" fill="#505050"/><rect x="481" y="12" width="14" height="1" fill="#505050"/>
<rect x="489" y="1" width="1" height="10" fill="#2050c0"/><polygon points="490,6 494,3 494,9" fill="#e04010"/>
<rect x="504" y="1" width="1" height="14" fill="#a0a0a0"/><rect x="505" y="1" width="1" height="14" fill="#ffffff"/>
<rect x="514.5" y="0" width="9" height="11" fill="#fafafa" stroke="#707070" stroke-width="1"/>
<path d="M522,8 H525 V11 H528 V14 H525 V17 H522 V14 H519 V11 H522 Z" fill="#20c020" stroke="#108010" stroke-width="0.8" shape-rendering="auto"/>
<polygon points="535,5 541,5 538,8" fill="#000" shape-rendering="auto"/>
<circle cx="560" cy="6" r="7.5" fill="#2a70d0" shape-rendering="auto"/><circle cx="560" cy="6" r="5.5" fill="#f4f4f4" shape-rendering="auto"/>
<path d="M560,3 V6 H563" fill="none" stroke="#303030" stroke-width="1"/>
<polygon points="574,5 580,5 577,8" fill="#000" shape-rendering="auto"/>
<rect x="591.5" y="0" width="15" height="12" fill="#fff" stroke="#5080c0" stroke-width="1"/>
<rect x="592" y="5" width="14" height="1" fill="#5080c0"/>
<path d="M593,4 L596,3 L599,4 L602,2 L605,3" fill="none" stroke="#c03020" stroke-width="1" shape-rendering="auto"/>
<path d="M593,10 L596,8 L599,9 L602,7 L605,9" fill="none" stroke="#20a030" stroke-width="1" shape-rendering="auto"/>
<polygon points="613,5 619,5 616,8" fill="#000" shape-rendering="auto"/>
<rect x="625" y="0" width="1" height="17" fill="#a0a0a0"/><rect x="626" y="0" width="1" height="17" fill="#fff"/>
<rect x="629" y="2" width="3" height="1" fill="#b8b8b8"/>
<rect x="629" y="4" width="3" height="1" fill="#b8b8b8"/>
<rect x="629" y="6" width="3" height="1" fill="#b8b8b8"/>
<rect x="629" y="8" width="3" height="1" fill="#b8b8b8"/>
<rect x="629" y="10" width="3" height="1" fill="#b8b8b8"/>
<rect x="629" y="12" width="3" height="1" fill="#b8b8b8"/>
<rect x="629" y="14" width="3" height="1" fill="#b8b8b8"/>
<rect x="635" y="1" width="1" height="14" fill="#a0a0a0"/><rect x="636" y="1" width="1" height="14" fill="#ffffff"/>
<rect x="636" y="0" width="24" height="16" fill="#f6f6f6"/>
<polygon points="643,1 643,12 646,9 649,14 651,13 648,8 652,8" fill="#505050" shape-rendering="auto"/>
<rect x="668" y="6" width="15" height="1" fill="#606060"/><rect x="675" y="0" width="1" height="14" fill="#606060"/>
<rect x="692" y="1" width="1" height="14" fill="#a0a0a0"/><rect x="693" y="1" width="1" height="14" fill="#ffffff"/>
<rect x="709" y="0" width="1" height="13" fill="#505050"/>
<rect x="731" y="6" width="13" height="1" fill="#505050"/>
<line x1="759.5" y1="13" x2="772" y2="1" stroke="#505050" stroke-width="1" shape-rendering="auto"/>
<path d="M786,10 L798,0 M788,13 L800,3 M789,4 L792,8 M793,2 L796,6" fill="none" stroke="#505050" stroke-width="1.2" shape-rendering="auto"/>
<text x="796" y="14.5" fill="#404040" font-size="7" text-anchor="start" font-weight="bold" stroke="#404040" stroke-width="0.25" >E</text>
<line x1="815" y1="2.5" x2="828" y2="2.5" stroke="#606060" stroke-width="1" stroke-dasharray="1,1"/>
<line x1="815" y1="5.5" x2="828" y2="5.5" stroke="#606060" stroke-width="1" stroke-dasharray="1,1"/>
<line x1="815" y1="8.5" x2="828" y2="8.5" stroke="#606060" stroke-width="1" stroke-dasharray="1,1"/>
<line x1="815" y1="11.5" x2="828" y2="11.5" stroke="#606060" stroke-width="1" stroke-dasharray="1,1"/>
<text x="826" y="15" fill="#404040" font-size="7" text-anchor="start" font-weight="bold" stroke="#404040" stroke-width="0.25" >F</text>
<text x="846" y="11" fill="#505050" font-size="12" text-anchor="start" font-weight="bold" stroke="#505050" stroke-width="0.25" >A</text>
<rect x="872.5" y="0.5" width="11" height="12" fill="none" stroke="#707070" stroke-width="1" stroke-dasharray="1,1"/>
<text x="874.5" y="11" fill="#505050" font-size="11" text-anchor="start" font-weight="bold" stroke="#505050" stroke-width="0.25" >T</text>
<path d="M900,4 L903,1 L906,4 Z M907,10 L910,13 L913,10 Z" fill="#404040" shape-rendering="auto"/><path d="M902,6 L905,9 L911,3" fill="none" stroke="#404040" stroke-width="1.5" shape-rendering="auto"/>
<polygon points="919,5 925,5 922,8" fill="#000" shape-rendering="auto"/>
<rect x="931" y="0" width="1" height="17" fill="#a0a0a0"/><rect x="932" y="0" width="1" height="17" fill="#fff"/>
<rect x="935" y="2" width="3" height="1" fill="#b8b8b8"/>
<rect x="935" y="4" width="3" height="1" fill="#b8b8b8"/>
<rect x="935" y="6" width="3" height="1" fill="#b8b8b8"/>
<rect x="935" y="8" width="3" height="1" fill="#b8b8b8"/>
<rect x="935" y="10" width="3" height="1" fill="#b8b8b8"/>
<rect x="935" y="12" width="3" height="1" fill="#b8b8b8"/>
<rect x="935" y="14" width="3" height="1" fill="#b8b8b8"/>
<rect x="1082" y="0" width="24" height="16" fill="#f6f6f6"/>
<rect x="1081" y="0" width="1" height="16" fill="#a0a0a0"/>
<text x="946.3" y="10" fill="#303030" font-size="9.5" text-anchor="start" font-weight="normal" textLength="13.1" lengthAdjust="spacingAndGlyphs" >M1</text>
<text x="974.8" y="10" fill="#303030" font-size="9.5" text-anchor="start" font-weight="normal" textLength="12.5" lengthAdjust="spacingAndGlyphs" >M5</text>
<text x="1000.7" y="10" fill="#303030" font-size="9.5" text-anchor="start" font-weight="normal" textLength="17.6" lengthAdjust="spacingAndGlyphs" >M15</text>
<text x="1028.6" y="10" fill="#303030" font-size="9.5" text-anchor="start" font-weight="normal" textLength="17.5" lengthAdjust="spacingAndGlyphs" >M30</text>
<text x="1059.3" y="10" fill="#303030" font-size="9.5" text-anchor="start" font-weight="normal" textLength="12.2" lengthAdjust="spacingAndGlyphs" >H1</text>
<text x="1086.4" y="10" fill="#303030" font-size="9.5" text-anchor="start" font-weight="normal" textLength="12.5" lengthAdjust="spacingAndGlyphs" >H4</text>
<text x="1115.7" y="10" fill="#303030" font-size="9.5" text-anchor="start" font-weight="normal" textLength="11.7" lengthAdjust="spacingAndGlyphs" >D1</text>
<text x="1142.8" y="10" fill="#303030" font-size="9.5" text-anchor="start" font-weight="normal" textLength="14.6" lengthAdjust="spacingAndGlyphs" >W1</text>
<text x="1169.6" y="10" fill="#303030" font-size="9.5" text-anchor="start" font-weight="normal" textLength="14.6" lengthAdjust="spacingAndGlyphs" >MN</text>
<rect x="1192" y="0" width="1" height="17" fill="#a0a0a0"/>
<circle cx="1662" cy="4" r="3.5" fill="none" stroke="#2a60d0" stroke-width="1.5" shape-rendering="auto"/>
<line x1="1659.5" y1="6.5" x2="1655" y2="11" stroke="#2a60d0" stroke-width="2" shape-rendering="auto"/>
<ellipse cx="1686" cy="9" rx="6" ry="4" fill="#e0e0e8" stroke="#b0b0b8" stroke-width="1" shape-rendering="auto"/>
<circle cx="1694" cy="4" r="7" fill="#d82a10" shape-rendering="auto"/>
<text x="1694" y="8" fill="#fff" font-size="10" text-anchor="middle" font-weight="normal" stroke="#fff" stroke-width="0.25" font-family="Liberation Serif">1</text>
</svg></body></html>
